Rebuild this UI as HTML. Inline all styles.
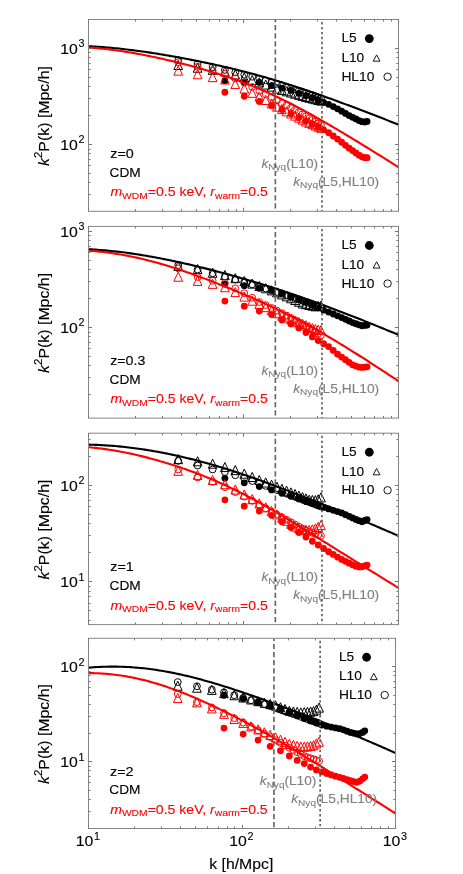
<!DOCTYPE html>
<html><head><meta charset="utf-8"><title>k2P(k)</title>
<style>html,body{margin:0;padding:0;background:#fff}svg{display:block;will-change:transform}svg text,svg tspan{font-family:"Liberation Sans",sans-serif}svg text{stroke-width:0.12px}</style></head>
<body><svg width="463" height="874" viewBox="0 0 463 874">
<rect width="463" height="874" fill="#fff"/>
<defs>
<clipPath id="c0"><rect x="88.5" y="19.5" width="310.60" height="191.80"/></clipPath>
<clipPath id="c1"><rect x="88.5" y="226.4" width="310.60" height="191.70"/></clipPath>
<clipPath id="c2"><rect x="88.5" y="433.2" width="310.60" height="191.40"/></clipPath>
<clipPath id="c3"><rect x="88.5" y="638.3" width="307.60" height="190.20"/></clipPath>
</defs>
<g clip-path="url(#c0)">
<circle cx="224.89" cy="80.68" r="3.4" fill="#000"/><circle cx="244.26" cy="81.78" r="3.4" fill="#000"/><circle cx="259.28" cy="82.39" r="3.4" fill="#000"/><circle cx="271.55" cy="85.65" r="3.4" fill="#000"/><circle cx="281.93" cy="88.08" r="3.4" fill="#000"/><circle cx="290.92" cy="90.35" r="3.4" fill="#000"/><circle cx="298.84" cy="93.29" r="3.4" fill="#000"/><circle cx="305.94" cy="95.69" r="3.4" fill="#000"/><circle cx="312.35" cy="97.70" r="3.4" fill="#000"/><circle cx="318.21" cy="100.38" r="3.4" fill="#000"/><circle cx="323.60" cy="102.31" r="3.4" fill="#000"/><circle cx="328.59" cy="104.32" r="3.4" fill="#000"/><circle cx="333.23" cy="106.62" r="3.4" fill="#000"/><circle cx="337.58" cy="108.83" r="3.4" fill="#000"/><circle cx="341.66" cy="111.18" r="3.4" fill="#000"/><circle cx="345.50" cy="113.47" r="3.4" fill="#000"/><circle cx="349.14" cy="115.61" r="3.4" fill="#000"/><circle cx="352.60" cy="117.32" r="3.4" fill="#000"/><circle cx="355.88" cy="118.96" r="3.4" fill="#000"/><circle cx="359.01" cy="120.55" r="3.4" fill="#000"/><circle cx="362.00" cy="121.66" r="3.4" fill="#000"/><circle cx="364.87" cy="121.99" r="3.4" fill="#000"/><circle cx="367.08" cy="121.46" r="3.4" fill="#000"/><circle cx="224.89" cy="92.23" r="3.4" fill="#ff0000"/><circle cx="244.26" cy="96.24" r="3.4" fill="#ff0000"/><circle cx="259.28" cy="101.51" r="3.4" fill="#ff0000"/><circle cx="271.55" cy="105.43" r="3.4" fill="#ff0000"/><circle cx="281.93" cy="109.49" r="3.4" fill="#ff0000"/><circle cx="290.92" cy="113.75" r="3.4" fill="#ff0000"/><circle cx="298.84" cy="117.55" r="3.4" fill="#ff0000"/><circle cx="305.94" cy="121.03" r="3.4" fill="#ff0000"/><circle cx="312.35" cy="124.22" r="3.4" fill="#ff0000"/><circle cx="318.21" cy="127.16" r="3.4" fill="#ff0000"/><circle cx="323.60" cy="129.90" r="3.4" fill="#ff0000"/><circle cx="328.59" cy="132.73" r="3.4" fill="#ff0000"/><circle cx="333.23" cy="135.98" r="3.4" fill="#ff0000"/><circle cx="337.58" cy="139.08" r="3.4" fill="#ff0000"/><circle cx="341.66" cy="142.26" r="3.4" fill="#ff0000"/><circle cx="345.50" cy="145.33" r="3.4" fill="#ff0000"/><circle cx="349.14" cy="148.22" r="3.4" fill="#ff0000"/><circle cx="352.60" cy="150.62" r="3.4" fill="#ff0000"/><circle cx="355.88" cy="152.94" r="3.4" fill="#ff0000"/><circle cx="359.01" cy="155.17" r="3.4" fill="#ff0000"/><circle cx="362.00" cy="156.78" r="3.4" fill="#ff0000"/><circle cx="364.87" cy="157.66" r="3.4" fill="#ff0000"/><circle cx="367.08" cy="157.66" r="3.4" fill="#ff0000"/><path d="M178.23 60.38L182.58 69.50H173.88Z" fill="none" stroke="#000" stroke-width="1.0"/><path d="M197.60 63.11L201.95 72.23H193.25Z" fill="none" stroke="#000" stroke-width="1.0"/><path d="M212.62 65.21L216.97 74.33H208.27Z" fill="none" stroke="#000" stroke-width="1.0"/><path d="M224.89 66.92L229.24 76.04H220.54Z" fill="none" stroke="#000" stroke-width="1.0"/><path d="M235.27 69.87L239.62 78.99H230.92Z" fill="none" stroke="#000" stroke-width="1.0"/><path d="M244.26 72.75L248.61 81.87H239.91Z" fill="none" stroke="#000" stroke-width="1.0"/><path d="M252.19 75.45L256.54 84.57H247.84Z" fill="none" stroke="#000" stroke-width="1.0"/><path d="M259.28 77.76L263.63 86.88H254.93Z" fill="none" stroke="#000" stroke-width="1.0"/><path d="M265.69 79.95L270.04 89.07H261.34Z" fill="none" stroke="#000" stroke-width="1.0"/><path d="M271.55 82.03L275.90 91.15H267.20Z" fill="none" stroke="#000" stroke-width="1.0"/><path d="M276.94 84.01L281.29 93.13H272.59Z" fill="none" stroke="#000" stroke-width="1.0"/><path d="M281.93 85.40L286.28 94.52H277.58Z" fill="none" stroke="#000" stroke-width="1.0"/><path d="M286.57 86.70L290.92 95.82H282.22Z" fill="none" stroke="#000" stroke-width="1.0"/><path d="M290.92 87.94L295.27 97.06H286.57Z" fill="none" stroke="#000" stroke-width="1.0"/><path d="M295.00 89.12L299.35 98.24H290.65Z" fill="none" stroke="#000" stroke-width="1.0"/><path d="M298.84 90.24L303.19 99.36H294.49Z" fill="none" stroke="#000" stroke-width="1.0"/><path d="M302.48 91.31L306.83 100.43H298.13Z" fill="none" stroke="#000" stroke-width="1.0"/><path d="M305.94 92.33L310.29 101.45H301.59Z" fill="none" stroke="#000" stroke-width="1.0"/><path d="M309.22 93.15L313.57 102.27H304.87Z" fill="none" stroke="#000" stroke-width="1.0"/><path d="M312.35 93.92L316.70 103.04H308.00Z" fill="none" stroke="#000" stroke-width="1.0"/><path d="M315.35 94.66L319.70 103.78H311.00Z" fill="none" stroke="#000" stroke-width="1.0"/><path d="M318.21 95.36L322.56 104.48H313.86Z" fill="none" stroke="#000" stroke-width="1.0"/><path d="M320.96 96.02L325.31 105.14H316.61Z" fill="none" stroke="#000" stroke-width="1.0"/><path d="M178.23 66.03L182.58 75.15H173.88Z" fill="none" stroke="#ff0000" stroke-width="1.0"/><path d="M197.60 69.68L201.95 78.80H193.25Z" fill="none" stroke="#ff0000" stroke-width="1.0"/><path d="M212.62 72.53L216.97 81.65H208.27Z" fill="none" stroke="#ff0000" stroke-width="1.0"/><path d="M224.89 74.90L229.24 84.02H220.54Z" fill="none" stroke="#ff0000" stroke-width="1.0"/><path d="M235.27 79.44L239.62 88.56H230.92Z" fill="none" stroke="#ff0000" stroke-width="1.0"/><path d="M244.26 83.93L248.61 93.05H239.91Z" fill="none" stroke="#ff0000" stroke-width="1.0"/><path d="M252.19 88.21L256.54 97.33H247.84Z" fill="none" stroke="#ff0000" stroke-width="1.0"/><path d="M259.28 91.88L263.63 101.00H254.93Z" fill="none" stroke="#ff0000" stroke-width="1.0"/><path d="M265.69 95.40L270.04 104.52H261.34Z" fill="none" stroke="#ff0000" stroke-width="1.0"/><path d="M271.55 98.79L275.90 107.91H267.20Z" fill="none" stroke="#ff0000" stroke-width="1.0"/><path d="M276.94 102.04L281.29 111.16H272.59Z" fill="none" stroke="#ff0000" stroke-width="1.0"/><path d="M281.93 104.43L286.28 113.55H277.58Z" fill="none" stroke="#ff0000" stroke-width="1.0"/><path d="M286.57 106.71L290.92 115.83H282.22Z" fill="none" stroke="#ff0000" stroke-width="1.0"/><path d="M290.92 108.90L295.27 118.02H286.57Z" fill="none" stroke="#ff0000" stroke-width="1.0"/><path d="M295.00 111.01L299.35 120.13H290.65Z" fill="none" stroke="#ff0000" stroke-width="1.0"/><path d="M298.84 113.03L303.19 122.15H294.49Z" fill="none" stroke="#ff0000" stroke-width="1.0"/><path d="M302.48 114.98L306.83 124.10H298.13Z" fill="none" stroke="#ff0000" stroke-width="1.0"/><path d="M305.94 116.85L310.29 125.97H301.59Z" fill="none" stroke="#ff0000" stroke-width="1.0"/><path d="M309.22 118.25L313.57 127.37H304.87Z" fill="none" stroke="#ff0000" stroke-width="1.0"/><path d="M312.35 119.58L316.70 128.70H308.00Z" fill="none" stroke="#ff0000" stroke-width="1.0"/><path d="M315.35 120.85L319.70 129.97H311.00Z" fill="none" stroke="#ff0000" stroke-width="1.0"/><path d="M318.21 122.06L322.56 131.18H313.86Z" fill="none" stroke="#ff0000" stroke-width="1.0"/><path d="M320.96 123.22L325.31 132.34H316.61Z" fill="none" stroke="#ff0000" stroke-width="1.0"/><circle cx="178.23" cy="60.28" r="3.4" fill="none" stroke="#000" stroke-width="1.0"/><circle cx="197.60" cy="64.01" r="3.4" fill="none" stroke="#000" stroke-width="1.0"/><circle cx="212.62" cy="67.16" r="3.4" fill="none" stroke="#000" stroke-width="1.0"/><circle cx="224.89" cy="69.92" r="3.4" fill="none" stroke="#000" stroke-width="1.0"/><circle cx="235.27" cy="72.40" r="3.4" fill="none" stroke="#000" stroke-width="1.0"/><circle cx="244.26" cy="74.67" r="3.4" fill="none" stroke="#000" stroke-width="1.0"/><circle cx="252.19" cy="76.75" r="3.4" fill="none" stroke="#000" stroke-width="1.0"/><circle cx="259.28" cy="78.68" r="3.4" fill="none" stroke="#000" stroke-width="1.0"/><circle cx="265.69" cy="80.50" r="3.4" fill="none" stroke="#000" stroke-width="1.0"/><circle cx="271.55" cy="82.20" r="3.4" fill="none" stroke="#000" stroke-width="1.0"/><circle cx="276.94" cy="83.81" r="3.4" fill="none" stroke="#000" stroke-width="1.0"/><circle cx="281.93" cy="85.34" r="3.4" fill="none" stroke="#000" stroke-width="1.0"/><circle cx="286.57" cy="86.79" r="3.4" fill="none" stroke="#000" stroke-width="1.0"/><circle cx="290.92" cy="88.17" r="3.4" fill="none" stroke="#000" stroke-width="1.0"/><circle cx="295.00" cy="89.49" r="3.4" fill="none" stroke="#000" stroke-width="1.0"/><circle cx="298.84" cy="90.76" r="3.4" fill="none" stroke="#000" stroke-width="1.0"/><circle cx="302.48" cy="91.97" r="3.4" fill="none" stroke="#000" stroke-width="1.0"/><circle cx="305.94" cy="93.13" r="3.4" fill="none" stroke="#000" stroke-width="1.0"/><circle cx="309.22" cy="94.25" r="3.4" fill="none" stroke="#000" stroke-width="1.0"/><circle cx="312.35" cy="95.32" r="3.4" fill="none" stroke="#000" stroke-width="1.0"/><circle cx="315.35" cy="96.36" r="3.4" fill="none" stroke="#000" stroke-width="1.0"/><circle cx="318.21" cy="97.36" r="3.4" fill="none" stroke="#000" stroke-width="1.0"/><circle cx="320.96" cy="98.32" r="3.4" fill="none" stroke="#000" stroke-width="1.0"/><circle cx="178.23" cy="62.23" r="3.4" fill="none" stroke="#ff0000" stroke-width="1.0"/><circle cx="197.60" cy="66.77" r="3.4" fill="none" stroke="#ff0000" stroke-width="1.0"/><circle cx="212.62" cy="70.57" r="3.4" fill="none" stroke="#ff0000" stroke-width="1.0"/><circle cx="224.89" cy="73.88" r="3.4" fill="none" stroke="#ff0000" stroke-width="1.0"/><circle cx="235.27" cy="78.39" r="3.4" fill="none" stroke="#ff0000" stroke-width="1.0"/><circle cx="244.26" cy="82.76" r="3.4" fill="none" stroke="#ff0000" stroke-width="1.0"/><circle cx="252.19" cy="86.94" r="3.4" fill="none" stroke="#ff0000" stroke-width="1.0"/><circle cx="259.28" cy="90.93" r="3.4" fill="none" stroke="#ff0000" stroke-width="1.0"/><circle cx="265.69" cy="94.20" r="3.4" fill="none" stroke="#ff0000" stroke-width="1.0"/><circle cx="271.55" cy="97.34" r="3.4" fill="none" stroke="#ff0000" stroke-width="1.0"/><circle cx="276.94" cy="100.34" r="3.4" fill="none" stroke="#ff0000" stroke-width="1.0"/><circle cx="281.93" cy="103.23" r="3.4" fill="none" stroke="#ff0000" stroke-width="1.0"/><circle cx="286.57" cy="105.60" r="3.4" fill="none" stroke="#ff0000" stroke-width="1.0"/><circle cx="290.92" cy="107.89" r="3.4" fill="none" stroke="#ff0000" stroke-width="1.0"/><circle cx="295.00" cy="110.08" r="3.4" fill="none" stroke="#ff0000" stroke-width="1.0"/><circle cx="298.84" cy="112.20" r="3.4" fill="none" stroke="#ff0000" stroke-width="1.0"/><circle cx="302.48" cy="114.24" r="3.4" fill="none" stroke="#ff0000" stroke-width="1.0"/><circle cx="305.94" cy="116.20" r="3.4" fill="none" stroke="#ff0000" stroke-width="1.0"/><circle cx="309.22" cy="118.09" r="3.4" fill="none" stroke="#ff0000" stroke-width="1.0"/><circle cx="312.35" cy="119.91" r="3.4" fill="none" stroke="#ff0000" stroke-width="1.0"/><circle cx="315.35" cy="121.67" r="3.4" fill="none" stroke="#ff0000" stroke-width="1.0"/><circle cx="318.21" cy="123.37" r="3.4" fill="none" stroke="#ff0000" stroke-width="1.0"/><circle cx="320.96" cy="125.02" r="3.4" fill="none" stroke="#ff0000" stroke-width="1.0"/>
<path d="M87.50 46.20L89.46 46.29L91.42 46.40L93.39 46.51L95.35 46.63L97.31 46.75L99.27 46.88L101.24 47.02L103.20 47.17L105.16 47.32L107.12 47.48L109.08 47.65L111.05 47.82L113.01 48.00L114.97 48.19L116.93 48.38L118.90 48.58L120.86 48.79L122.82 49.00L124.78 49.22L126.75 49.45L128.71 49.68L130.67 49.92L132.63 50.16L134.59 50.42L136.56 50.67L138.52 50.94L140.48 51.21L142.44 51.48L144.41 51.76L146.37 52.05L148.33 52.34L150.29 52.64L152.25 52.94L154.22 53.24L156.18 53.55L158.14 53.87L160.10 54.18L162.07 54.51L164.03 54.84L165.99 55.17L167.95 55.51L169.92 55.85L171.88 56.20L173.84 56.55L175.80 56.90L177.76 57.25L179.73 57.61L181.69 57.98L183.65 58.34L185.61 58.72L187.58 59.09L189.54 59.47L191.50 59.85L193.46 60.23L195.42 60.62L197.39 61.02L199.35 61.41L201.31 61.81L203.27 62.22L205.24 62.63L207.20 63.04L209.16 63.45L211.12 63.87L213.08 64.30L215.05 64.73L217.01 65.16L218.97 65.59L220.93 66.04L222.90 66.48L224.86 66.93L226.82 67.39L228.78 67.85L230.75 68.32L232.71 68.79L234.67 69.27L236.63 69.75L238.59 70.23L240.56 70.73L242.52 71.22L244.48 71.72L246.44 72.23L248.41 72.74L250.37 73.26L252.33 73.79L254.29 74.31L256.25 74.85L258.22 75.39L260.18 75.93L262.14 76.49L264.10 77.04L266.07 77.60L268.03 78.17L269.99 78.74L271.95 79.32L273.92 79.91L275.88 80.49L277.84 81.09L279.80 81.69L281.76 82.29L283.73 82.90L285.69 83.51L287.65 84.13L289.61 84.75L291.58 85.38L293.54 86.02L295.50 86.65L297.46 87.30L299.42 87.95L301.39 88.60L303.35 89.26L305.31 89.92L307.27 90.58L309.24 91.25L311.20 91.92L313.16 92.60L315.12 93.28L317.08 93.96L319.05 94.65L321.01 95.34L322.97 96.03L324.93 96.73L326.90 97.43L328.86 98.14L330.82 98.84L332.78 99.56L334.75 100.27L336.71 100.99L338.67 101.71L340.63 102.44L342.59 103.16L344.56 103.89L346.52 104.62L348.48 105.35L350.44 106.08L352.41 106.82L354.37 107.55L356.33 108.29L358.29 109.04L360.25 109.78L362.22 110.52L364.18 111.27L366.14 112.02L368.10 112.77L370.07 113.53L372.03 114.28L373.99 115.04L375.95 115.80L377.92 116.56L379.88 117.32L381.84 118.09L383.80 118.85L385.76 119.62L387.73 120.39L389.69 121.16L391.65 121.93L393.61 122.71L395.58 123.48L397.54 124.26L399.50 125.04" fill="none" stroke="#000" stroke-width="2.1"/>
<path d="M87.50 47.43L89.46 47.57L91.42 47.72L93.39 47.87L95.35 48.04L97.31 48.21L99.27 48.40L101.24 48.59L103.20 48.79L105.16 49.01L107.12 49.23L109.08 49.46L111.05 49.70L113.01 49.94L114.97 50.20L116.93 50.47L118.90 50.74L120.86 51.03L122.82 51.32L124.78 51.62L126.75 51.93L128.71 52.24L130.67 52.57L132.63 52.90L134.59 53.25L136.56 53.60L138.52 53.96L140.48 54.33L142.44 54.70L144.41 55.08L146.37 55.47L148.33 55.86L150.29 56.26L152.25 56.67L154.22 57.09L156.18 57.51L158.14 57.93L160.10 58.37L162.07 58.81L164.03 59.25L165.99 59.71L167.95 60.17L169.92 60.63L171.88 61.10L173.84 61.57L175.80 62.05L177.76 62.54L179.73 63.03L181.69 63.53L183.65 64.03L185.61 64.53L187.58 65.05L189.54 65.56L191.50 66.09L193.46 66.62L195.42 67.15L197.39 67.70L199.35 68.24L201.31 68.80L203.27 69.36L205.24 69.93L207.20 70.51L209.16 71.09L211.12 71.68L213.08 72.28L215.05 72.88L217.01 73.49L218.97 74.11L220.93 74.74L222.90 75.37L224.86 76.02L226.82 76.68L228.78 77.34L230.75 78.02L232.71 78.70L234.67 79.39L236.63 80.09L238.59 80.80L240.56 81.52L242.52 82.25L244.48 82.99L246.44 83.75L248.41 84.51L250.37 85.28L252.33 86.07L254.29 86.86L256.25 87.67L258.22 88.49L260.18 89.32L262.14 90.16L264.10 91.01L266.07 91.87L268.03 92.74L269.99 93.63L271.95 94.52L273.92 95.42L275.88 96.34L277.84 97.27L279.80 98.20L281.76 99.15L283.73 100.11L285.69 101.07L287.65 102.05L289.61 103.04L291.58 104.04L293.54 105.05L295.50 106.07L297.46 107.10L299.42 108.14L301.39 109.19L303.35 110.25L305.31 111.31L307.27 112.38L309.24 113.46L311.20 114.54L313.16 115.63L315.12 116.73L317.08 117.83L319.05 118.94L321.01 120.05L322.97 121.17L324.93 122.30L326.90 123.43L328.86 124.58L330.82 125.72L332.78 126.88L334.75 128.04L336.71 129.20L338.67 130.37L340.63 131.54L342.59 132.71L344.56 133.89L346.52 135.06L348.48 136.25L350.44 137.43L352.41 138.62L354.37 139.81L356.33 141.00L358.29 142.19L360.25 143.39L362.22 144.59L364.18 145.79L366.14 147.00L368.10 148.21L370.07 149.42L372.03 150.63L373.99 151.85L375.95 153.07L377.92 154.28L379.88 155.51L381.84 156.73L383.80 157.95L385.76 159.18L387.73 160.41L389.69 161.64L391.65 162.87L393.61 164.11L395.58 165.34L397.54 166.58L399.50 167.82" fill="none" stroke="#ff0000" stroke-width="2.1"/>
<path d="M275.35 19.5V211.3" stroke="#626262" stroke-width="1.6" stroke-dasharray="5.2 2.9" stroke-dashoffset="2.5" fill="none"/>
<path d="M322.01 19.5V211.3" stroke="#626262" stroke-width="1.7" stroke-dasharray="2.4 2.55" stroke-dashoffset="2.45" fill="none"/>
</g>
<rect x="88.5" y="19.5" width="310.00" height="191.80" fill="none" stroke="#858585" stroke-width="1"/>
<path d="M88.50 211.30v-3.6M88.50 19.50v3.6M135.50 211.30v-2.1M135.50 19.50v2.1M162.50 211.30v-2.1M162.50 19.50v2.1M181.50 211.30v-2.1M181.50 19.50v2.1M196.50 211.30v-2.1M196.50 19.50v2.1M209.50 211.30v-2.1M209.50 19.50v2.1M219.50 211.30v-2.1M219.50 19.50v2.1M228.50 211.30v-2.1M228.50 19.50v2.1M236.50 211.30v-2.1M236.50 19.50v2.1M243.50 211.30v-3.6M243.50 19.50v3.6M290.50 211.30v-2.1M290.50 19.50v2.1M317.50 211.30v-2.1M317.50 19.50v2.1M336.50 211.30v-2.1M336.50 19.50v2.1M351.50 211.30v-2.1M351.50 19.50v2.1M364.50 211.30v-2.1M364.50 19.50v2.1M374.50 211.30v-2.1M374.50 19.50v2.1M383.50 211.30v-2.1M383.50 19.50v2.1M391.50 211.30v-2.1M391.50 19.50v2.1M398.50 211.30v-3.6M398.50 19.50v3.6M88.50 194.50h2.1M398.50 194.50h-2.1M88.50 182.50h2.1M398.50 182.50h-2.1M88.50 173.50h2.1M398.50 173.50h-2.1M88.50 165.50h2.1M398.50 165.50h-2.1M88.50 159.50h2.1M398.50 159.50h-2.1M88.50 153.50h2.1M398.50 153.50h-2.1M88.50 149.50h2.1M398.50 149.50h-2.1M88.50 144.50h3.6M398.50 144.50h-3.6M88.50 115.50h2.1M398.50 115.50h-2.1M88.50 98.50h2.1M398.50 98.50h-2.1M88.50 86.50h2.1M398.50 86.50h-2.1M88.50 77.50h2.1M398.50 77.50h-2.1M88.50 69.50h2.1M398.50 69.50h-2.1M88.50 63.50h2.1M398.50 63.50h-2.1M88.50 57.50h2.1M398.50 57.50h-2.1M88.50 52.50h2.1M398.50 52.50h-2.1M88.50 48.50h3.6M398.50 48.50h-3.6" stroke="#777" stroke-width="1" fill="none"/>
<text x="60.3" y="53.9" font-size="15.5" fill="#000" stroke="#000" textLength="17.6" lengthAdjust="spacingAndGlyphs" >10</text>
<text x="78.5" y="47.2" font-size="10.6" fill="#000" stroke="#000" textLength="6.0" lengthAdjust="spacingAndGlyphs" >3</text>
<text x="60.3" y="150.1" font-size="15.5" fill="#000" stroke="#000" textLength="17.6" lengthAdjust="spacingAndGlyphs" >10</text>
<text x="78.5" y="143.4" font-size="10.6" fill="#000" stroke="#000" textLength="6.0" lengthAdjust="spacingAndGlyphs" >2</text>
<g transform="translate(49.2 166.0) rotate(-90)"><text x="0" y="0" font-size="13.8" stroke="#000" textLength="100" lengthAdjust="spacingAndGlyphs"><tspan font-style="italic">k</tspan><tspan font-size="10" dy="-7.6">2</tspan><tspan dy="7.6">P(k) [Mpc/h]</tspan></text></g>
<text x="110.2" y="157.9" font-size="13.5" fill="#000" stroke="#000" textLength="23.6" lengthAdjust="spacingAndGlyphs" >z=0</text>
<text x="109.5" y="176.7" font-size="13.5" fill="#000" stroke="#000" textLength="31.2" lengthAdjust="spacingAndGlyphs" >CDM</text>
<text x="110.4" y="196.2" font-size="13.5" fill="#ff0000" stroke="#ff0000" textLength="157.5" lengthAdjust="spacingAndGlyphs"><tspan font-style="italic">m</tspan><tspan font-size="9.9" dy="2.5">WDM</tspan><tspan dy="-2.5">=0.5 keV, </tspan><tspan font-style="italic">r</tspan><tspan font-size="9.9" dy="2.5">warm</tspan><tspan dy="-2.5">=0.5</tspan></text>
<text x="261.5" y="167.7" font-size="13.5" fill="#808080" stroke="#808080" textLength="56.6" lengthAdjust="spacingAndGlyphs"><tspan font-style="italic">k</tspan><tspan font-size="9.9" dy="2.5">Nyq</tspan><tspan dy="-2.5">(L10)</tspan></text>
<text x="293.2" y="185.8" font-size="13.5" fill="#808080" stroke="#808080" textLength="86" lengthAdjust="spacingAndGlyphs"><tspan font-style="italic">k</tspan><tspan font-size="9.9" dy="2.5">Nyq</tspan><tspan dy="-2.5">(L5,HL10)</tspan></text>
<text x="341.4" y="42.4" font-size="13.5" fill="#000" stroke="#000" textLength="15.2" lengthAdjust="spacingAndGlyphs" >L5</text>
<text x="341.4" y="62.0" font-size="13.5" fill="#000" stroke="#000" textLength="22.8" lengthAdjust="spacingAndGlyphs" >L10</text>
<text x="341.4" y="80.6" font-size="13.5" fill="#000" stroke="#000" textLength="33.0" lengthAdjust="spacingAndGlyphs" >HL10</text>
<circle cx="369.30" cy="38.60" r="4.4" fill="#000"/>
<path d="M376.60 54.90L380.00 61.20H373.20Z" fill="none" stroke="#000" stroke-width="0.9"/>
<circle cx="387.60" cy="76.70" r="3.7" fill="none" stroke="#000" stroke-width="0.9"/>
<g clip-path="url(#c1)">
<circle cx="224.89" cy="284.06" r="3.4" fill="#000"/><circle cx="244.26" cy="285.68" r="3.4" fill="#000"/><circle cx="259.28" cy="288.35" r="3.4" fill="#000"/><circle cx="271.55" cy="290.05" r="3.4" fill="#000"/><circle cx="281.93" cy="293.47" r="3.4" fill="#000"/><circle cx="290.92" cy="296.67" r="3.4" fill="#000"/><circle cx="298.84" cy="299.63" r="3.4" fill="#000"/><circle cx="305.94" cy="302.36" r="3.4" fill="#000"/><circle cx="312.35" cy="305.16" r="3.4" fill="#000"/><circle cx="318.21" cy="307.79" r="3.4" fill="#000"/><circle cx="323.60" cy="310.11" r="3.4" fill="#000"/><circle cx="328.59" cy="312.12" r="3.4" fill="#000"/><circle cx="333.23" cy="314.02" r="3.4" fill="#000"/><circle cx="337.58" cy="315.83" r="3.4" fill="#000"/><circle cx="341.66" cy="317.62" r="3.4" fill="#000"/><circle cx="345.50" cy="319.34" r="3.4" fill="#000"/><circle cx="349.14" cy="320.99" r="3.4" fill="#000"/><circle cx="352.60" cy="322.58" r="3.4" fill="#000"/><circle cx="355.88" cy="323.74" r="3.4" fill="#000"/><circle cx="359.01" cy="324.78" r="3.4" fill="#000"/><circle cx="362.00" cy="325.76" r="3.4" fill="#000"/><circle cx="364.87" cy="325.44" r="3.4" fill="#000"/><circle cx="367.08" cy="325.09" r="3.4" fill="#000"/><circle cx="224.89" cy="301.10" r="3.4" fill="#ff0000"/><circle cx="244.26" cy="306.13" r="3.4" fill="#ff0000"/><circle cx="259.28" cy="311.04" r="3.4" fill="#ff0000"/><circle cx="271.55" cy="314.59" r="3.4" fill="#ff0000"/><circle cx="281.93" cy="320.10" r="3.4" fill="#ff0000"/><circle cx="290.92" cy="323.92" r="3.4" fill="#ff0000"/><circle cx="298.84" cy="327.91" r="3.4" fill="#ff0000"/><circle cx="305.94" cy="332.48" r="3.4" fill="#ff0000"/><circle cx="312.35" cy="336.95" r="3.4" fill="#ff0000"/><circle cx="318.21" cy="340.61" r="3.4" fill="#ff0000"/><circle cx="323.60" cy="343.73" r="3.4" fill="#ff0000"/><circle cx="328.59" cy="346.56" r="3.4" fill="#ff0000"/><circle cx="333.23" cy="350.39" r="3.4" fill="#ff0000"/><circle cx="337.58" cy="354.17" r="3.4" fill="#ff0000"/><circle cx="341.66" cy="357.09" r="3.4" fill="#ff0000"/><circle cx="345.50" cy="359.77" r="3.4" fill="#ff0000"/><circle cx="349.14" cy="362.34" r="3.4" fill="#ff0000"/><circle cx="352.60" cy="364.81" r="3.4" fill="#ff0000"/><circle cx="355.88" cy="366.09" r="3.4" fill="#ff0000"/><circle cx="359.01" cy="367.03" r="3.4" fill="#ff0000"/><circle cx="362.00" cy="367.44" r="3.4" fill="#ff0000"/><circle cx="364.87" cy="367.11" r="3.4" fill="#ff0000"/><circle cx="367.08" cy="366.81" r="3.4" fill="#ff0000"/><path d="M178.23 261.34L182.58 270.46H173.88Z" fill="none" stroke="#000" stroke-width="1.0"/><path d="M197.60 264.46L201.95 273.58H193.25Z" fill="none" stroke="#000" stroke-width="1.0"/><path d="M212.62 268.18L216.97 277.30H208.27Z" fill="none" stroke="#000" stroke-width="1.0"/><path d="M224.89 270.47L229.24 279.59H220.54Z" fill="none" stroke="#000" stroke-width="1.0"/><path d="M235.27 273.58L239.62 282.70H230.92Z" fill="none" stroke="#000" stroke-width="1.0"/><path d="M244.26 276.43L248.61 285.55H239.91Z" fill="none" stroke="#000" stroke-width="1.0"/><path d="M252.19 279.03L256.54 288.15H247.84Z" fill="none" stroke="#000" stroke-width="1.0"/><path d="M259.28 281.43L263.63 290.55H254.93Z" fill="none" stroke="#000" stroke-width="1.0"/><path d="M265.69 283.67L270.04 292.79H261.34Z" fill="none" stroke="#000" stroke-width="1.0"/><path d="M271.55 285.77L275.90 294.89H267.20Z" fill="none" stroke="#000" stroke-width="1.0"/><path d="M276.94 287.75L281.29 296.87H272.59Z" fill="none" stroke="#000" stroke-width="1.0"/><path d="M281.93 289.79L286.28 298.91H277.58Z" fill="none" stroke="#000" stroke-width="1.0"/><path d="M286.57 291.75L290.92 300.87H282.22Z" fill="none" stroke="#000" stroke-width="1.0"/><path d="M290.92 293.62L295.27 302.74H286.57Z" fill="none" stroke="#000" stroke-width="1.0"/><path d="M295.00 295.43L299.35 304.55H290.65Z" fill="none" stroke="#000" stroke-width="1.0"/><path d="M298.84 297.16L303.19 306.28H294.49Z" fill="none" stroke="#000" stroke-width="1.0"/><path d="M302.48 298.85L306.83 307.97H298.13Z" fill="none" stroke="#000" stroke-width="1.0"/><path d="M305.94 299.63L310.29 308.75H301.59Z" fill="none" stroke="#000" stroke-width="1.0"/><path d="M309.22 300.37L313.57 309.49H304.87Z" fill="none" stroke="#000" stroke-width="1.0"/><path d="M312.35 301.06L316.70 310.18H308.00Z" fill="none" stroke="#000" stroke-width="1.0"/><path d="M315.35 301.71L319.70 310.83H311.00Z" fill="none" stroke="#000" stroke-width="1.0"/><path d="M318.21 301.35L322.56 310.47H313.86Z" fill="none" stroke="#000" stroke-width="1.0"/><path d="M320.96 300.96L325.31 310.08H316.61Z" fill="none" stroke="#000" stroke-width="1.0"/><path d="M178.23 272.11L182.58 281.23H173.88Z" fill="none" stroke="#ff0000" stroke-width="1.0"/><path d="M197.60 276.30L201.95 285.42H193.25Z" fill="none" stroke="#ff0000" stroke-width="1.0"/><path d="M212.62 279.25L216.97 288.37H208.27Z" fill="none" stroke="#ff0000" stroke-width="1.0"/><path d="M224.89 282.61L229.24 291.73H220.54Z" fill="none" stroke="#ff0000" stroke-width="1.0"/><path d="M235.27 287.50L239.62 296.62H230.92Z" fill="none" stroke="#ff0000" stroke-width="1.0"/><path d="M244.26 291.97L248.61 301.09H239.91Z" fill="none" stroke="#ff0000" stroke-width="1.0"/><path d="M252.19 296.10L256.54 305.22H247.84Z" fill="none" stroke="#ff0000" stroke-width="1.0"/><path d="M259.28 299.44L263.63 308.56H254.93Z" fill="none" stroke="#ff0000" stroke-width="1.0"/><path d="M265.69 302.54L270.04 311.66H261.34Z" fill="none" stroke="#ff0000" stroke-width="1.0"/><path d="M271.55 305.45L275.90 314.57H267.20Z" fill="none" stroke="#ff0000" stroke-width="1.0"/><path d="M276.94 308.60L281.29 317.72H272.59Z" fill="none" stroke="#ff0000" stroke-width="1.0"/><path d="M281.93 311.07L286.28 320.19H277.58Z" fill="none" stroke="#ff0000" stroke-width="1.0"/><path d="M286.57 312.86L290.92 321.98H282.22Z" fill="none" stroke="#ff0000" stroke-width="1.0"/><path d="M290.92 314.54L295.27 323.66H286.57Z" fill="none" stroke="#ff0000" stroke-width="1.0"/><path d="M295.00 316.12L299.35 325.24H290.65Z" fill="none" stroke="#ff0000" stroke-width="1.0"/><path d="M298.84 317.62L303.19 326.74H294.49Z" fill="none" stroke="#ff0000" stroke-width="1.0"/><path d="M302.48 319.19L306.83 328.31H298.13Z" fill="none" stroke="#ff0000" stroke-width="1.0"/><path d="M305.94 320.70L310.29 329.82H301.59Z" fill="none" stroke="#ff0000" stroke-width="1.0"/><path d="M309.22 322.13L313.57 331.25H304.87Z" fill="none" stroke="#ff0000" stroke-width="1.0"/><path d="M312.35 323.50L316.70 332.62H308.00Z" fill="none" stroke="#ff0000" stroke-width="1.0"/><path d="M315.35 324.47L319.70 333.59H311.00Z" fill="none" stroke="#ff0000" stroke-width="1.0"/><path d="M318.21 325.05L322.56 334.17H313.86Z" fill="none" stroke="#ff0000" stroke-width="1.0"/><path d="M320.96 325.58L325.31 334.70H316.61Z" fill="none" stroke="#ff0000" stroke-width="1.0"/><circle cx="178.23" cy="265.14" r="3.4" fill="none" stroke="#000" stroke-width="1.0"/><circle cx="197.60" cy="269.55" r="3.4" fill="none" stroke="#000" stroke-width="1.0"/><circle cx="212.62" cy="273.28" r="3.4" fill="none" stroke="#000" stroke-width="1.0"/><circle cx="224.89" cy="276.51" r="3.4" fill="none" stroke="#000" stroke-width="1.0"/><circle cx="235.27" cy="279.39" r="3.4" fill="none" stroke="#000" stroke-width="1.0"/><circle cx="244.26" cy="281.98" r="3.4" fill="none" stroke="#000" stroke-width="1.0"/><circle cx="252.19" cy="284.33" r="3.4" fill="none" stroke="#000" stroke-width="1.0"/><circle cx="259.28" cy="286.48" r="3.4" fill="none" stroke="#000" stroke-width="1.0"/><circle cx="265.69" cy="288.47" r="3.4" fill="none" stroke="#000" stroke-width="1.0"/><circle cx="271.55" cy="290.32" r="3.4" fill="none" stroke="#000" stroke-width="1.0"/><circle cx="276.94" cy="292.05" r="3.4" fill="none" stroke="#000" stroke-width="1.0"/><circle cx="281.93" cy="293.68" r="3.4" fill="none" stroke="#000" stroke-width="1.0"/><circle cx="286.57" cy="295.22" r="3.4" fill="none" stroke="#000" stroke-width="1.0"/><circle cx="290.92" cy="296.67" r="3.4" fill="none" stroke="#000" stroke-width="1.0"/><circle cx="295.00" cy="298.06" r="3.4" fill="none" stroke="#000" stroke-width="1.0"/><circle cx="298.84" cy="299.38" r="3.4" fill="none" stroke="#000" stroke-width="1.0"/><circle cx="302.48" cy="300.65" r="3.4" fill="none" stroke="#000" stroke-width="1.0"/><circle cx="305.94" cy="301.86" r="3.4" fill="none" stroke="#000" stroke-width="1.0"/><circle cx="309.22" cy="303.02" r="3.4" fill="none" stroke="#000" stroke-width="1.0"/><circle cx="312.35" cy="304.14" r="3.4" fill="none" stroke="#000" stroke-width="1.0"/><circle cx="315.35" cy="305.21" r="3.4" fill="none" stroke="#000" stroke-width="1.0"/><circle cx="318.21" cy="306.25" r="3.4" fill="none" stroke="#000" stroke-width="1.0"/><circle cx="320.96" cy="307.26" r="3.4" fill="none" stroke="#000" stroke-width="1.0"/><circle cx="178.23" cy="268.41" r="3.4" fill="none" stroke="#ff0000" stroke-width="1.0"/><circle cx="197.60" cy="277.05" r="3.4" fill="none" stroke="#ff0000" stroke-width="1.0"/><circle cx="212.62" cy="280.74" r="3.4" fill="none" stroke="#ff0000" stroke-width="1.0"/><circle cx="224.89" cy="282.93" r="3.4" fill="none" stroke="#ff0000" stroke-width="1.0"/><circle cx="235.27" cy="288.24" r="3.4" fill="none" stroke="#ff0000" stroke-width="1.0"/><circle cx="244.26" cy="293.16" r="3.4" fill="none" stroke="#ff0000" stroke-width="1.0"/><circle cx="252.19" cy="297.73" r="3.4" fill="none" stroke="#ff0000" stroke-width="1.0"/><circle cx="259.28" cy="302.04" r="3.4" fill="none" stroke="#ff0000" stroke-width="1.0"/><circle cx="265.69" cy="305.08" r="3.4" fill="none" stroke="#ff0000" stroke-width="1.0"/><circle cx="271.55" cy="307.92" r="3.4" fill="none" stroke="#ff0000" stroke-width="1.0"/><circle cx="276.94" cy="310.60" r="3.4" fill="none" stroke="#ff0000" stroke-width="1.0"/><circle cx="281.93" cy="313.16" r="3.4" fill="none" stroke="#ff0000" stroke-width="1.0"/><circle cx="286.57" cy="315.59" r="3.4" fill="none" stroke="#ff0000" stroke-width="1.0"/><circle cx="290.92" cy="317.92" r="3.4" fill="none" stroke="#ff0000" stroke-width="1.0"/><circle cx="295.00" cy="320.15" r="3.4" fill="none" stroke="#ff0000" stroke-width="1.0"/><circle cx="298.84" cy="322.29" r="3.4" fill="none" stroke="#ff0000" stroke-width="1.0"/><circle cx="302.48" cy="324.35" r="3.4" fill="none" stroke="#ff0000" stroke-width="1.0"/><circle cx="305.94" cy="326.34" r="3.4" fill="none" stroke="#ff0000" stroke-width="1.0"/><circle cx="309.22" cy="328.26" r="3.4" fill="none" stroke="#ff0000" stroke-width="1.0"/><circle cx="312.35" cy="330.12" r="3.4" fill="none" stroke="#ff0000" stroke-width="1.0"/><circle cx="315.35" cy="331.93" r="3.4" fill="none" stroke="#ff0000" stroke-width="1.0"/><circle cx="318.21" cy="333.68" r="3.4" fill="none" stroke="#ff0000" stroke-width="1.0"/><circle cx="320.96" cy="335.38" r="3.4" fill="none" stroke="#ff0000" stroke-width="1.0"/>
<path d="M87.50 249.22L89.46 249.32L91.42 249.42L93.39 249.54L95.35 249.66L97.31 249.80L99.27 249.94L101.24 250.09L103.20 250.25L105.16 250.41L107.12 250.59L109.08 250.78L111.05 250.97L113.01 251.17L114.97 251.38L116.93 251.60L118.90 251.83L120.86 252.07L122.82 252.31L124.78 252.56L126.75 252.82L128.71 253.09L130.67 253.36L132.63 253.65L134.59 253.94L136.56 254.23L138.52 254.54L140.48 254.86L142.44 255.18L144.41 255.50L146.37 255.84L148.33 256.18L150.29 256.52L152.25 256.87L154.22 257.23L156.18 257.59L158.14 257.96L160.10 258.34L162.07 258.72L164.03 259.10L165.99 259.50L167.95 259.90L169.92 260.30L171.88 260.71L173.84 261.12L175.80 261.54L177.76 261.96L179.73 262.39L181.69 262.82L183.65 263.26L185.61 263.70L187.58 264.14L189.54 264.59L191.50 265.05L193.46 265.51L195.42 265.98L197.39 266.45L199.35 266.92L201.31 267.40L203.27 267.88L205.24 268.37L207.20 268.86L209.16 269.36L211.12 269.86L213.08 270.37L215.05 270.88L217.01 271.40L218.97 271.92L220.93 272.44L222.90 272.97L224.86 273.50L226.82 274.04L228.78 274.58L230.75 275.12L232.71 275.67L234.67 276.22L236.63 276.78L238.59 277.34L240.56 277.91L242.52 278.47L244.48 279.05L246.44 279.62L248.41 280.20L250.37 280.78L252.33 281.37L254.29 281.96L256.25 282.56L258.22 283.15L260.18 283.76L262.14 284.36L264.10 284.97L266.07 285.58L268.03 286.20L269.99 286.82L271.95 287.45L273.92 288.07L275.88 288.71L277.84 289.34L279.80 289.98L281.76 290.62L283.73 291.27L285.69 291.92L287.65 292.58L289.61 293.23L291.58 293.90L293.54 294.56L295.50 295.23L297.46 295.90L299.42 296.58L301.39 297.26L303.35 297.95L305.31 298.64L307.27 299.33L309.24 300.02L311.20 300.72L313.16 301.43L315.12 302.13L317.08 302.84L319.05 303.56L321.01 304.27L322.97 305.00L324.93 305.72L326.90 306.45L328.86 307.18L330.82 307.92L332.78 308.66L334.75 309.40L336.71 310.15L338.67 310.90L340.63 311.65L342.59 312.41L344.56 313.16L346.52 313.92L348.48 314.68L350.44 315.45L352.41 316.22L354.37 316.99L356.33 317.76L358.29 318.53L360.25 319.31L362.22 320.09L364.18 320.87L366.14 321.65L368.10 322.44L370.07 323.23L372.03 324.02L373.99 324.81L375.95 325.61L377.92 326.40L379.88 327.20L381.84 328.00L383.80 328.80L385.76 329.61L387.73 330.41L389.69 331.22L391.65 332.03L393.61 332.84L395.58 333.65L397.54 334.47L399.50 335.28" fill="none" stroke="#000" stroke-width="2.1"/>
<path d="M87.50 250.62L89.46 250.75L91.42 250.90L93.39 251.06L95.35 251.23L97.31 251.41L99.27 251.61L101.24 251.82L103.20 252.04L105.16 252.27L107.12 252.52L109.08 252.77L111.05 253.04L113.01 253.33L114.97 253.62L116.93 253.93L118.90 254.25L120.86 254.58L122.82 254.92L124.78 255.27L126.75 255.64L128.71 256.02L130.67 256.41L132.63 256.81L134.59 257.22L136.56 257.65L138.52 258.09L140.48 258.54L142.44 259.00L144.41 259.47L146.37 259.95L148.33 260.44L150.29 260.95L152.25 261.46L154.22 261.98L156.18 262.52L158.14 263.07L160.10 263.62L162.07 264.19L164.03 264.77L165.99 265.36L167.95 265.96L169.92 266.57L171.88 267.18L173.84 267.81L175.80 268.44L177.76 269.08L179.73 269.73L181.69 270.39L183.65 271.06L185.61 271.73L187.58 272.42L189.54 273.11L191.50 273.81L193.46 274.52L195.42 275.23L197.39 275.94L199.35 276.67L201.31 277.39L203.27 278.12L205.24 278.86L207.20 279.60L209.16 280.35L211.12 281.10L213.08 281.86L215.05 282.62L217.01 283.39L218.97 284.16L220.93 284.94L222.90 285.72L224.86 286.50L226.82 287.29L228.78 288.08L230.75 288.88L232.71 289.68L234.67 290.49L236.63 291.30L238.59 292.11L240.56 292.93L242.52 293.75L244.48 294.58L246.44 295.42L248.41 296.26L250.37 297.11L252.33 297.96L254.29 298.82L256.25 299.69L258.22 300.56L260.18 301.44L262.14 302.33L264.10 303.22L266.07 304.11L268.03 305.02L269.99 305.92L271.95 306.84L273.92 307.76L275.88 308.70L277.84 309.64L279.80 310.59L281.76 311.54L283.73 312.51L285.69 313.48L287.65 314.46L289.61 315.45L291.58 316.45L293.54 317.46L295.50 318.47L297.46 319.50L299.42 320.53L301.39 321.57L303.35 322.61L305.31 323.67L307.27 324.73L309.24 325.80L311.20 326.88L313.16 327.97L315.12 329.07L317.08 330.17L319.05 331.28L321.01 332.40L322.97 333.53L324.93 334.67L326.90 335.82L328.86 336.97L330.82 338.13L332.78 339.30L334.75 340.48L336.71 341.66L338.67 342.85L340.63 344.04L342.59 345.24L344.56 346.45L346.52 347.65L348.48 348.87L350.44 350.08L352.41 351.30L354.37 352.53L356.33 353.76L358.29 355.00L360.25 356.24L362.22 357.48L364.18 358.73L366.14 359.99L368.10 361.25L370.07 362.51L372.03 363.78L373.99 365.05L375.95 366.32L377.92 367.60L379.88 368.88L381.84 370.16L383.80 371.45L385.76 372.74L387.73 374.03L389.69 375.33L391.65 376.63L393.61 377.93L395.58 379.24L397.54 380.54L399.50 381.86" fill="none" stroke="#ff0000" stroke-width="2.1"/>
<path d="M275.35 226.4V418.1" stroke="#626262" stroke-width="1.6" stroke-dasharray="5.2 2.9" stroke-dashoffset="2.5" fill="none"/>
<path d="M322.01 226.4V418.1" stroke="#626262" stroke-width="1.7" stroke-dasharray="2.4 2.55" stroke-dashoffset="2.45" fill="none"/>
</g>
<rect x="88.5" y="226.4" width="310.00" height="191.70" fill="none" stroke="#858585" stroke-width="1"/>
<path d="M88.50 418.10v-3.6M88.50 226.40v3.6M135.50 418.10v-2.1M135.50 226.40v2.1M162.50 418.10v-2.1M162.50 226.40v2.1M181.50 418.10v-2.1M181.50 226.40v2.1M196.50 418.10v-2.1M196.50 226.40v2.1M209.50 418.10v-2.1M209.50 226.40v2.1M219.50 418.10v-2.1M219.50 226.40v2.1M228.50 418.10v-2.1M228.50 226.40v2.1M236.50 418.10v-2.1M236.50 226.40v2.1M243.50 418.10v-3.6M243.50 226.40v3.6M290.50 418.10v-2.1M290.50 226.40v2.1M317.50 418.10v-2.1M317.50 226.40v2.1M336.50 418.10v-2.1M336.50 226.40v2.1M351.50 418.10v-2.1M351.50 226.40v2.1M364.50 418.10v-2.1M364.50 226.40v2.1M374.50 418.10v-2.1M374.50 226.40v2.1M383.50 418.10v-2.1M383.50 226.40v2.1M391.50 418.10v-2.1M391.50 226.40v2.1M398.50 418.10v-3.6M398.50 226.40v3.6M88.50 394.50h2.1M398.50 394.50h-2.1M88.50 377.50h2.1M398.50 377.50h-2.1M88.50 365.50h2.1M398.50 365.50h-2.1M88.50 356.50h2.1M398.50 356.50h-2.1M88.50 348.50h2.1M398.50 348.50h-2.1M88.50 342.50h2.1M398.50 342.50h-2.1M88.50 336.50h2.1M398.50 336.50h-2.1M88.50 332.50h2.1M398.50 332.50h-2.1M88.50 327.50h3.6M398.50 327.50h-3.6M88.50 298.50h2.1M398.50 298.50h-2.1M88.50 281.50h2.1M398.50 281.50h-2.1M88.50 269.50h2.1M398.50 269.50h-2.1M88.50 260.50h2.1M398.50 260.50h-2.1M88.50 252.50h2.1M398.50 252.50h-2.1M88.50 246.50h2.1M398.50 246.50h-2.1M88.50 240.50h2.1M398.50 240.50h-2.1M88.50 235.50h2.1M398.50 235.50h-2.1M88.50 231.50h3.6M398.50 231.50h-3.6" stroke="#777" stroke-width="1" fill="none"/>
<text x="60.3" y="236.9" font-size="15.5" fill="#000" stroke="#000" textLength="17.6" lengthAdjust="spacingAndGlyphs" >10</text>
<text x="78.5" y="230.2" font-size="10.6" fill="#000" stroke="#000" textLength="6.0" lengthAdjust="spacingAndGlyphs" >3</text>
<text x="60.3" y="333.1" font-size="15.5" fill="#000" stroke="#000" textLength="17.6" lengthAdjust="spacingAndGlyphs" >10</text>
<text x="78.5" y="326.4" font-size="10.6" fill="#000" stroke="#000" textLength="6.0" lengthAdjust="spacingAndGlyphs" >2</text>
<g transform="translate(49.2 372.9) rotate(-90)"><text x="0" y="0" font-size="13.8" stroke="#000" textLength="100" lengthAdjust="spacingAndGlyphs"><tspan font-style="italic">k</tspan><tspan font-size="10" dy="-7.6">2</tspan><tspan dy="7.6">P(k) [Mpc/h]</tspan></text></g>
<text x="110.2" y="364.7" font-size="13.5" fill="#000" stroke="#000" textLength="35.2" lengthAdjust="spacingAndGlyphs" >z=0.3</text>
<text x="109.5" y="383.5" font-size="13.5" fill="#000" stroke="#000" textLength="31.2" lengthAdjust="spacingAndGlyphs" >CDM</text>
<text x="110.4" y="403.0" font-size="13.5" fill="#ff0000" stroke="#ff0000" textLength="157.5" lengthAdjust="spacingAndGlyphs"><tspan font-style="italic">m</tspan><tspan font-size="9.9" dy="2.5">WDM</tspan><tspan dy="-2.5">=0.5 keV, </tspan><tspan font-style="italic">r</tspan><tspan font-size="9.9" dy="2.5">warm</tspan><tspan dy="-2.5">=0.5</tspan></text>
<text x="261.5" y="374.5" font-size="13.5" fill="#808080" stroke="#808080" textLength="56.6" lengthAdjust="spacingAndGlyphs"><tspan font-style="italic">k</tspan><tspan font-size="9.9" dy="2.5">Nyq</tspan><tspan dy="-2.5">(L10)</tspan></text>
<text x="293.2" y="392.6" font-size="13.5" fill="#808080" stroke="#808080" textLength="86" lengthAdjust="spacingAndGlyphs"><tspan font-style="italic">k</tspan><tspan font-size="9.9" dy="2.5">Nyq</tspan><tspan dy="-2.5">(L5,HL10)</tspan></text>
<text x="341.4" y="249.3" font-size="13.5" fill="#000" stroke="#000" textLength="15.2" lengthAdjust="spacingAndGlyphs" >L5</text>
<text x="341.4" y="268.9" font-size="13.5" fill="#000" stroke="#000" textLength="22.8" lengthAdjust="spacingAndGlyphs" >L10</text>
<text x="341.4" y="287.5" font-size="13.5" fill="#000" stroke="#000" textLength="33.0" lengthAdjust="spacingAndGlyphs" >HL10</text>
<circle cx="369.30" cy="245.49" r="4.4" fill="#000"/>
<path d="M376.60 261.78L380.00 268.08H373.20Z" fill="none" stroke="#000" stroke-width="0.9"/>
<circle cx="387.60" cy="283.57" r="3.7" fill="none" stroke="#000" stroke-width="0.9"/>
<g clip-path="url(#c2)">
<circle cx="224.89" cy="478.34" r="3.4" fill="#000"/><circle cx="244.26" cy="482.81" r="3.4" fill="#000"/><circle cx="259.28" cy="486.54" r="3.4" fill="#000"/><circle cx="271.55" cy="489.95" r="3.4" fill="#000"/><circle cx="281.93" cy="493.37" r="3.4" fill="#000"/><circle cx="290.92" cy="496.34" r="3.4" fill="#000"/><circle cx="298.84" cy="498.94" r="3.4" fill="#000"/><circle cx="305.94" cy="501.42" r="3.4" fill="#000"/><circle cx="312.35" cy="503.64" r="3.4" fill="#000"/><circle cx="318.21" cy="505.67" r="3.4" fill="#000"/><circle cx="323.60" cy="507.42" r="3.4" fill="#000"/><circle cx="328.59" cy="508.94" r="3.4" fill="#000"/><circle cx="333.23" cy="510.32" r="3.4" fill="#000"/><circle cx="337.58" cy="511.59" r="3.4" fill="#000"/><circle cx="341.66" cy="512.94" r="3.4" fill="#000"/><circle cx="345.50" cy="514.68" r="3.4" fill="#000"/><circle cx="349.14" cy="516.34" r="3.4" fill="#000"/><circle cx="352.60" cy="517.93" r="3.4" fill="#000"/><circle cx="355.88" cy="519.39" r="3.4" fill="#000"/><circle cx="359.01" cy="520.67" r="3.4" fill="#000"/><circle cx="362.00" cy="521.66" r="3.4" fill="#000"/><circle cx="364.87" cy="520.51" r="3.4" fill="#000"/><circle cx="367.08" cy="519.56" r="3.4" fill="#000"/><circle cx="224.89" cy="499.87" r="3.4" fill="#ff0000"/><circle cx="244.26" cy="506.13" r="3.4" fill="#ff0000"/><circle cx="259.28" cy="510.98" r="3.4" fill="#ff0000"/><circle cx="271.55" cy="515.31" r="3.4" fill="#ff0000"/><circle cx="281.93" cy="521.66" r="3.4" fill="#ff0000"/><circle cx="290.92" cy="527.39" r="3.4" fill="#ff0000"/><circle cx="298.84" cy="532.57" r="3.4" fill="#ff0000"/><circle cx="305.94" cy="537.11" r="3.4" fill="#ff0000"/><circle cx="312.35" cy="541.23" r="3.4" fill="#ff0000"/><circle cx="318.21" cy="545.01" r="3.4" fill="#ff0000"/><circle cx="323.60" cy="548.50" r="3.4" fill="#ff0000"/><circle cx="328.59" cy="551.64" r="3.4" fill="#ff0000"/><circle cx="333.23" cy="554.43" r="3.4" fill="#ff0000"/><circle cx="337.58" cy="557.04" r="3.4" fill="#ff0000"/><circle cx="341.66" cy="559.39" r="3.4" fill="#ff0000"/><circle cx="345.50" cy="561.34" r="3.4" fill="#ff0000"/><circle cx="349.14" cy="563.16" r="3.4" fill="#ff0000"/><circle cx="352.60" cy="564.87" r="3.4" fill="#ff0000"/><circle cx="355.88" cy="566.17" r="3.4" fill="#ff0000"/><circle cx="359.01" cy="566.94" r="3.4" fill="#ff0000"/><circle cx="362.00" cy="566.76" r="3.4" fill="#ff0000"/><circle cx="364.87" cy="565.88" r="3.4" fill="#ff0000"/><circle cx="367.08" cy="565.12" r="3.4" fill="#ff0000"/><path d="M178.23 454.54L182.58 463.66H173.88Z" fill="none" stroke="#000" stroke-width="1.0"/><path d="M197.60 456.68L201.95 465.80H193.25Z" fill="none" stroke="#000" stroke-width="1.0"/><path d="M212.62 459.11L216.97 468.23H208.27Z" fill="none" stroke="#000" stroke-width="1.0"/><path d="M224.89 462.47L229.24 471.59H220.54Z" fill="none" stroke="#000" stroke-width="1.0"/><path d="M235.27 465.53L239.62 474.65H230.92Z" fill="none" stroke="#000" stroke-width="1.0"/><path d="M244.26 469.08L248.61 478.20H239.91Z" fill="none" stroke="#000" stroke-width="1.0"/><path d="M252.19 472.38L256.54 481.50H247.84Z" fill="none" stroke="#000" stroke-width="1.0"/><path d="M259.28 475.46L263.63 484.58H254.93Z" fill="none" stroke="#000" stroke-width="1.0"/><path d="M265.69 477.89L270.04 487.01H261.34Z" fill="none" stroke="#000" stroke-width="1.0"/><path d="M271.55 480.16L275.90 489.28H267.20Z" fill="none" stroke="#000" stroke-width="1.0"/><path d="M276.94 482.28L281.29 491.40H272.59Z" fill="none" stroke="#000" stroke-width="1.0"/><path d="M281.93 484.26L286.28 493.38H277.58Z" fill="none" stroke="#000" stroke-width="1.0"/><path d="M286.57 486.10L290.92 495.22H282.22Z" fill="none" stroke="#000" stroke-width="1.0"/><path d="M290.92 487.83L295.27 496.95H286.57Z" fill="none" stroke="#000" stroke-width="1.0"/><path d="M295.00 489.48L299.35 498.60H290.65Z" fill="none" stroke="#000" stroke-width="1.0"/><path d="M298.84 491.04L303.19 500.16H294.49Z" fill="none" stroke="#000" stroke-width="1.0"/><path d="M302.48 492.49L306.83 501.61H298.13Z" fill="none" stroke="#000" stroke-width="1.0"/><path d="M305.94 493.87L310.29 502.99H301.59Z" fill="none" stroke="#000" stroke-width="1.0"/><path d="M309.22 495.19L313.57 504.31H304.87Z" fill="none" stroke="#000" stroke-width="1.0"/><path d="M312.35 495.42L316.70 504.54H308.00Z" fill="none" stroke="#000" stroke-width="1.0"/><path d="M315.35 495.59L319.70 504.71H311.00Z" fill="none" stroke="#000" stroke-width="1.0"/><path d="M318.21 494.73L322.56 503.85H313.86Z" fill="none" stroke="#000" stroke-width="1.0"/><path d="M320.96 492.81L325.31 501.93H316.61Z" fill="none" stroke="#000" stroke-width="1.0"/><path d="M178.23 466.21L182.58 475.33H173.88Z" fill="none" stroke="#ff0000" stroke-width="1.0"/><path d="M197.60 470.30L201.95 479.42H193.25Z" fill="none" stroke="#ff0000" stroke-width="1.0"/><path d="M212.62 475.34L216.97 484.46H208.27Z" fill="none" stroke="#ff0000" stroke-width="1.0"/><path d="M224.89 479.61L229.24 488.73H220.54Z" fill="none" stroke="#ff0000" stroke-width="1.0"/><path d="M235.27 484.92L239.62 494.04H230.92Z" fill="none" stroke="#ff0000" stroke-width="1.0"/><path d="M244.26 489.90L248.61 499.02H239.91Z" fill="none" stroke="#ff0000" stroke-width="1.0"/><path d="M252.19 494.52L256.54 503.64H247.84Z" fill="none" stroke="#ff0000" stroke-width="1.0"/><path d="M259.28 498.84L263.63 507.96H254.93Z" fill="none" stroke="#ff0000" stroke-width="1.0"/><path d="M265.69 502.73L270.04 511.85H261.34Z" fill="none" stroke="#ff0000" stroke-width="1.0"/><path d="M271.55 506.40L275.90 515.52H267.20Z" fill="none" stroke="#ff0000" stroke-width="1.0"/><path d="M276.94 509.84L281.29 518.96H272.59Z" fill="none" stroke="#ff0000" stroke-width="1.0"/><path d="M281.93 513.09L286.28 522.21H277.58Z" fill="none" stroke="#ff0000" stroke-width="1.0"/><path d="M286.57 516.18L290.92 525.30H282.22Z" fill="none" stroke="#ff0000" stroke-width="1.0"/><path d="M290.92 519.11L295.27 528.23H286.57Z" fill="none" stroke="#ff0000" stroke-width="1.0"/><path d="M295.00 521.89L299.35 531.01H290.65Z" fill="none" stroke="#ff0000" stroke-width="1.0"/><path d="M298.84 523.47L303.19 532.59H294.49Z" fill="none" stroke="#ff0000" stroke-width="1.0"/><path d="M302.48 524.92L306.83 534.04H298.13Z" fill="none" stroke="#ff0000" stroke-width="1.0"/><path d="M305.94 525.20L310.29 534.32H301.59Z" fill="none" stroke="#ff0000" stroke-width="1.0"/><path d="M309.22 525.36L313.57 534.48H304.87Z" fill="none" stroke="#ff0000" stroke-width="1.0"/><path d="M312.35 524.82L316.70 533.94H308.00Z" fill="none" stroke="#ff0000" stroke-width="1.0"/><path d="M315.35 523.93L319.70 533.05H311.00Z" fill="none" stroke="#ff0000" stroke-width="1.0"/><path d="M318.21 522.37L322.56 531.49H313.86Z" fill="none" stroke="#ff0000" stroke-width="1.0"/><path d="M320.96 520.49L325.31 529.61H316.61Z" fill="none" stroke="#ff0000" stroke-width="1.0"/><circle cx="178.23" cy="460.84" r="3.4" fill="none" stroke="#000" stroke-width="1.0"/><circle cx="197.60" cy="465.55" r="3.4" fill="none" stroke="#000" stroke-width="1.0"/><circle cx="212.62" cy="469.49" r="3.4" fill="none" stroke="#000" stroke-width="1.0"/><circle cx="224.89" cy="472.08" r="3.4" fill="none" stroke="#000" stroke-width="1.0"/><circle cx="235.27" cy="475.23" r="3.4" fill="none" stroke="#000" stroke-width="1.0"/><circle cx="244.26" cy="478.25" r="3.4" fill="none" stroke="#000" stroke-width="1.0"/><circle cx="252.19" cy="481.01" r="3.4" fill="none" stroke="#000" stroke-width="1.0"/><circle cx="259.28" cy="483.54" r="3.4" fill="none" stroke="#000" stroke-width="1.0"/><circle cx="265.69" cy="485.88" r="3.4" fill="none" stroke="#000" stroke-width="1.0"/><circle cx="271.55" cy="488.06" r="3.4" fill="none" stroke="#000" stroke-width="1.0"/><circle cx="276.94" cy="490.04" r="3.4" fill="none" stroke="#000" stroke-width="1.0"/><circle cx="281.93" cy="491.88" r="3.4" fill="none" stroke="#000" stroke-width="1.0"/><circle cx="286.57" cy="493.61" r="3.4" fill="none" stroke="#000" stroke-width="1.0"/><circle cx="290.92" cy="495.23" r="3.4" fill="none" stroke="#000" stroke-width="1.0"/><circle cx="295.00" cy="496.76" r="3.4" fill="none" stroke="#000" stroke-width="1.0"/><circle cx="298.84" cy="498.21" r="3.4" fill="none" stroke="#000" stroke-width="1.0"/><circle cx="302.48" cy="499.59" r="3.4" fill="none" stroke="#000" stroke-width="1.0"/><circle cx="305.94" cy="500.89" r="3.4" fill="none" stroke="#000" stroke-width="1.0"/><circle cx="309.22" cy="502.14" r="3.4" fill="none" stroke="#000" stroke-width="1.0"/><circle cx="312.35" cy="503.33" r="3.4" fill="none" stroke="#000" stroke-width="1.0"/><circle cx="315.35" cy="504.47" r="3.4" fill="none" stroke="#000" stroke-width="1.0"/><circle cx="318.21" cy="505.56" r="3.4" fill="none" stroke="#000" stroke-width="1.0"/><circle cx="320.96" cy="506.61" r="3.4" fill="none" stroke="#000" stroke-width="1.0"/><circle cx="178.23" cy="469.51" r="3.4" fill="none" stroke="#ff0000" stroke-width="1.0"/><circle cx="197.60" cy="477.46" r="3.4" fill="none" stroke="#ff0000" stroke-width="1.0"/><circle cx="212.62" cy="481.85" r="3.4" fill="none" stroke="#ff0000" stroke-width="1.0"/><circle cx="224.89" cy="487.19" r="3.4" fill="none" stroke="#ff0000" stroke-width="1.0"/><circle cx="235.27" cy="492.11" r="3.4" fill="none" stroke="#ff0000" stroke-width="1.0"/><circle cx="244.26" cy="496.64" r="3.4" fill="none" stroke="#ff0000" stroke-width="1.0"/><circle cx="252.19" cy="500.81" r="3.4" fill="none" stroke="#ff0000" stroke-width="1.0"/><circle cx="259.28" cy="504.67" r="3.4" fill="none" stroke="#ff0000" stroke-width="1.0"/><circle cx="265.69" cy="508.27" r="3.4" fill="none" stroke="#ff0000" stroke-width="1.0"/><circle cx="271.55" cy="511.64" r="3.4" fill="none" stroke="#ff0000" stroke-width="1.0"/><circle cx="276.94" cy="514.56" r="3.4" fill="none" stroke="#ff0000" stroke-width="1.0"/><circle cx="281.93" cy="517.28" r="3.4" fill="none" stroke="#ff0000" stroke-width="1.0"/><circle cx="286.57" cy="519.82" r="3.4" fill="none" stroke="#ff0000" stroke-width="1.0"/><circle cx="290.92" cy="522.20" r="3.4" fill="none" stroke="#ff0000" stroke-width="1.0"/><circle cx="295.00" cy="524.44" r="3.4" fill="none" stroke="#ff0000" stroke-width="1.0"/><circle cx="298.84" cy="526.57" r="3.4" fill="none" stroke="#ff0000" stroke-width="1.0"/><circle cx="302.48" cy="528.57" r="3.4" fill="none" stroke="#ff0000" stroke-width="1.0"/><circle cx="305.94" cy="530.47" r="3.4" fill="none" stroke="#ff0000" stroke-width="1.0"/><circle cx="309.22" cy="531.70" r="3.4" fill="none" stroke="#ff0000" stroke-width="1.0"/><circle cx="312.35" cy="532.85" r="3.4" fill="none" stroke="#ff0000" stroke-width="1.0"/><circle cx="315.35" cy="533.90" r="3.4" fill="none" stroke="#ff0000" stroke-width="1.0"/><circle cx="318.21" cy="534.88" r="3.4" fill="none" stroke="#ff0000" stroke-width="1.0"/><circle cx="320.96" cy="535.79" r="3.4" fill="none" stroke="#ff0000" stroke-width="1.0"/>
<path d="M87.50 444.62L89.46 444.66L91.42 444.71L93.39 444.77L95.35 444.84L97.31 444.92L99.27 445.01L101.24 445.11L103.20 445.22L105.16 445.34L107.12 445.46L109.08 445.60L111.05 445.74L113.01 445.89L114.97 446.06L116.93 446.23L118.90 446.41L120.86 446.60L122.82 446.80L124.78 447.01L126.75 447.23L128.71 447.45L130.67 447.69L132.63 447.93L134.59 448.19L136.56 448.45L138.52 448.72L140.48 449.00L142.44 449.29L144.41 449.59L146.37 449.89L148.33 450.20L150.29 450.53L152.25 450.86L154.22 451.19L156.18 451.54L158.14 451.89L160.10 452.26L162.07 452.63L164.03 453.01L165.99 453.40L167.95 453.79L169.92 454.19L171.88 454.60L173.84 455.02L175.80 455.45L177.76 455.88L179.73 456.32L181.69 456.76L183.65 457.22L185.61 457.68L187.58 458.15L189.54 458.63L191.50 459.11L193.46 459.60L195.42 460.10L197.39 460.61L199.35 461.12L201.31 461.64L203.27 462.17L205.24 462.70L207.20 463.25L209.16 463.80L211.12 464.35L213.08 464.92L215.05 465.49L217.01 466.07L218.97 466.65L220.93 467.25L222.90 467.84L224.86 468.45L226.82 469.06L228.78 469.68L230.75 470.31L232.71 470.94L234.67 471.58L236.63 472.23L238.59 472.88L240.56 473.54L242.52 474.20L244.48 474.87L246.44 475.54L248.41 476.22L250.37 476.90L252.33 477.59L254.29 478.28L256.25 478.98L258.22 479.68L260.18 480.38L262.14 481.09L264.10 481.81L266.07 482.53L268.03 483.25L269.99 483.98L271.95 484.71L273.92 485.44L275.88 486.18L277.84 486.91L279.80 487.65L281.76 488.40L283.73 489.14L285.69 489.89L287.65 490.63L289.61 491.38L291.58 492.14L293.54 492.89L295.50 493.65L297.46 494.40L299.42 495.16L301.39 495.93L303.35 496.69L305.31 497.46L307.27 498.22L309.24 498.99L311.20 499.76L313.16 500.53L315.12 501.31L317.08 502.08L319.05 502.86L321.01 503.63L322.97 504.41L324.93 505.19L326.90 505.97L328.86 506.76L330.82 507.54L332.78 508.33L334.75 509.12L336.71 509.91L338.67 510.70L340.63 511.49L342.59 512.29L344.56 513.08L346.52 513.89L348.48 514.69L350.44 515.49L352.41 516.30L354.37 517.11L356.33 517.92L358.29 518.73L360.25 519.55L362.22 520.36L364.18 521.18L366.14 522.00L368.10 522.83L370.07 523.65L372.03 524.48L373.99 525.31L375.95 526.15L377.92 526.98L379.88 527.82L381.84 528.66L383.80 529.51L385.76 530.35L387.73 531.20L389.69 532.05L391.65 532.91L393.61 533.76L395.58 534.62L397.54 535.48L399.50 536.35" fill="none" stroke="#000" stroke-width="2.1"/>
<path d="M87.50 447.15L89.46 447.32L91.42 447.50L93.39 447.69L95.35 447.90L97.31 448.11L99.27 448.34L101.24 448.58L103.20 448.84L105.16 449.10L107.12 449.38L109.08 449.67L111.05 449.97L113.01 450.29L114.97 450.62L116.93 450.95L118.90 451.30L120.86 451.67L122.82 452.04L124.78 452.42L126.75 452.82L128.71 453.22L130.67 453.64L132.63 454.07L134.59 454.51L136.56 454.96L138.52 455.42L140.48 455.89L142.44 456.38L144.41 456.87L146.37 457.37L148.33 457.88L150.29 458.40L152.25 458.93L154.22 459.47L156.18 460.02L158.14 460.58L160.10 461.14L162.07 461.72L164.03 462.30L165.99 462.89L167.95 463.50L169.92 464.11L171.88 464.73L173.84 465.36L175.80 465.99L177.76 466.64L179.73 467.29L181.69 467.95L183.65 468.63L185.61 469.30L187.58 469.99L189.54 470.69L191.50 471.40L193.46 472.11L195.42 472.84L197.39 473.58L199.35 474.33L201.31 475.09L203.27 475.86L205.24 476.64L207.20 477.44L209.16 478.24L211.12 479.06L213.08 479.88L215.05 480.72L217.01 481.57L218.97 482.43L220.93 483.30L222.90 484.19L224.86 485.08L226.82 485.99L228.78 486.91L230.75 487.84L232.71 488.79L234.67 489.74L236.63 490.71L238.59 491.69L240.56 492.68L242.52 493.68L244.48 494.69L246.44 495.72L248.41 496.75L250.37 497.79L252.33 498.84L254.29 499.90L256.25 500.97L258.22 502.05L260.18 503.14L262.14 504.24L264.10 505.35L266.07 506.47L268.03 507.59L269.99 508.73L271.95 509.88L273.92 511.03L275.88 512.18L277.84 513.34L279.80 514.51L281.76 515.68L283.73 516.85L285.69 518.03L287.65 519.22L289.61 520.41L291.58 521.60L293.54 522.80L295.50 524.00L297.46 525.21L299.42 526.43L301.39 527.64L303.35 528.86L305.31 530.08L307.27 531.29L309.24 532.51L311.20 533.73L313.16 534.95L315.12 536.17L317.08 537.38L319.05 538.60L321.01 539.82L322.97 541.04L324.93 542.26L326.90 543.48L328.86 544.70L330.82 545.92L332.78 547.14L334.75 548.36L336.71 549.58L338.67 550.80L340.63 552.02L342.59 553.24L344.56 554.46L346.52 555.68L348.48 556.90L350.44 558.12L352.41 559.34L354.37 560.56L356.33 561.78L358.29 563.00L360.25 564.22L362.22 565.44L364.18 566.66L366.14 567.88L368.10 569.10L370.07 570.32L372.03 571.54L373.99 572.76L375.95 573.97L377.92 575.19L379.88 576.41L381.84 577.63L383.80 578.85L385.76 580.07L387.73 581.29L389.69 582.51L391.65 583.73L393.61 584.95L395.58 586.17L397.54 587.39L399.50 588.61" fill="none" stroke="#ff0000" stroke-width="2.1"/>
<path d="M275.35 433.2V624.6" stroke="#626262" stroke-width="1.6" stroke-dasharray="5.2 2.9" stroke-dashoffset="2.5" fill="none"/>
<path d="M322.01 433.2V624.6" stroke="#626262" stroke-width="1.7" stroke-dasharray="2.4 2.55" stroke-dashoffset="2.45" fill="none"/>
</g>
<rect x="88.5" y="433.2" width="310.00" height="191.40" fill="none" stroke="#858585" stroke-width="1"/>
<path d="M88.50 624.60v-3.6M88.50 433.20v3.6M135.50 624.60v-2.1M135.50 433.20v2.1M162.50 624.60v-2.1M162.50 433.20v2.1M181.50 624.60v-2.1M181.50 433.20v2.1M196.50 624.60v-2.1M196.50 433.20v2.1M209.50 624.60v-2.1M209.50 433.20v2.1M219.50 624.60v-2.1M219.50 433.20v2.1M228.50 624.60v-2.1M228.50 433.20v2.1M236.50 624.60v-2.1M236.50 433.20v2.1M243.50 624.60v-3.6M243.50 433.20v3.6M290.50 624.60v-2.1M290.50 433.20v2.1M317.50 624.60v-2.1M317.50 433.20v2.1M336.50 624.60v-2.1M336.50 433.20v2.1M351.50 624.60v-2.1M351.50 433.20v2.1M364.50 624.60v-2.1M364.50 433.20v2.1M374.50 624.60v-2.1M374.50 433.20v2.1M383.50 624.60v-2.1M383.50 433.20v2.1M391.50 624.60v-2.1M391.50 433.20v2.1M398.50 624.60v-3.6M398.50 433.20v3.6M88.50 620.50h2.1M398.50 620.50h-2.1M88.50 610.50h2.1M398.50 610.50h-2.1M88.50 603.50h2.1M398.50 603.50h-2.1M88.50 596.50h2.1M398.50 596.50h-2.1M88.50 591.50h2.1M398.50 591.50h-2.1M88.50 586.50h2.1M398.50 586.50h-2.1M88.50 581.50h3.6M398.50 581.50h-3.6M88.50 552.50h2.1M398.50 552.50h-2.1M88.50 535.50h2.1M398.50 535.50h-2.1M88.50 523.50h2.1M398.50 523.50h-2.1M88.50 514.50h2.1M398.50 514.50h-2.1M88.50 506.50h2.1M398.50 506.50h-2.1M88.50 500.50h2.1M398.50 500.50h-2.1M88.50 494.50h2.1M398.50 494.50h-2.1M88.50 489.50h2.1M398.50 489.50h-2.1M88.50 485.50h3.6M398.50 485.50h-3.6M88.50 456.50h2.1M398.50 456.50h-2.1M88.50 439.50h2.1M398.50 439.50h-2.1" stroke="#777" stroke-width="1" fill="none"/>
<text x="60.3" y="490.9" font-size="15.5" fill="#000" stroke="#000" textLength="17.6" lengthAdjust="spacingAndGlyphs" >10</text>
<text x="78.5" y="484.2" font-size="10.6" fill="#000" stroke="#000" textLength="6.0" lengthAdjust="spacingAndGlyphs" >2</text>
<text x="60.3" y="587.2" font-size="15.5" fill="#000" stroke="#000" textLength="17.6" lengthAdjust="spacingAndGlyphs" >10</text>
<text x="78.5" y="580.5" font-size="10.6" fill="#000" stroke="#000" textLength="6.0" lengthAdjust="spacingAndGlyphs" >1</text>
<g transform="translate(49.2 579.5) rotate(-90)"><text x="0" y="0" font-size="13.8" stroke="#000" textLength="100" lengthAdjust="spacingAndGlyphs"><tspan font-style="italic">k</tspan><tspan font-size="10" dy="-7.6">2</tspan><tspan dy="7.6">P(k) [Mpc/h]</tspan></text></g>
<text x="110.2" y="571.3" font-size="13.5" fill="#000" stroke="#000" textLength="23.6" lengthAdjust="spacingAndGlyphs" >z=1</text>
<text x="109.5" y="590.1" font-size="13.5" fill="#000" stroke="#000" textLength="31.2" lengthAdjust="spacingAndGlyphs" >CDM</text>
<text x="110.4" y="609.5" font-size="13.5" fill="#ff0000" stroke="#ff0000" textLength="157.5" lengthAdjust="spacingAndGlyphs"><tspan font-style="italic">m</tspan><tspan font-size="9.9" dy="2.5">WDM</tspan><tspan dy="-2.5">=0.5 keV, </tspan><tspan font-style="italic">r</tspan><tspan font-size="9.9" dy="2.5">warm</tspan><tspan dy="-2.5">=0.5</tspan></text>
<text x="261.5" y="581.1" font-size="13.5" fill="#808080" stroke="#808080" textLength="56.6" lengthAdjust="spacingAndGlyphs"><tspan font-style="italic">k</tspan><tspan font-size="9.9" dy="2.5">Nyq</tspan><tspan dy="-2.5">(L10)</tspan></text>
<text x="293.2" y="599.2" font-size="13.5" fill="#808080" stroke="#808080" textLength="86" lengthAdjust="spacingAndGlyphs"><tspan font-style="italic">k</tspan><tspan font-size="9.9" dy="2.5">Nyq</tspan><tspan dy="-2.5">(L5,HL10)</tspan></text>
<text x="341.4" y="456.1" font-size="13.5" fill="#000" stroke="#000" textLength="15.2" lengthAdjust="spacingAndGlyphs" >L5</text>
<text x="341.4" y="475.6" font-size="13.5" fill="#000" stroke="#000" textLength="22.8" lengthAdjust="spacingAndGlyphs" >L10</text>
<text x="341.4" y="494.2" font-size="13.5" fill="#000" stroke="#000" textLength="33.0" lengthAdjust="spacingAndGlyphs" >HL10</text>
<circle cx="369.30" cy="452.26" r="4.4" fill="#000"/>
<path d="M376.60 468.53L380.00 474.83H373.20Z" fill="none" stroke="#000" stroke-width="0.9"/>
<circle cx="387.60" cy="490.28" r="3.7" fill="none" stroke="#000" stroke-width="0.9"/>
<g clip-path="url(#c3)">
<circle cx="223.97" cy="695.25" r="3.4" fill="#000"/><circle cx="243.15" cy="698.75" r="3.4" fill="#000"/><circle cx="258.03" cy="702.39" r="3.4" fill="#000"/><circle cx="270.18" cy="705.29" r="3.4" fill="#000"/><circle cx="280.46" cy="709.15" r="3.4" fill="#000"/><circle cx="289.36" cy="712.55" r="3.4" fill="#000"/><circle cx="297.21" cy="715.70" r="3.4" fill="#000"/><circle cx="304.24" cy="718.57" r="3.4" fill="#000"/><circle cx="310.59" cy="720.92" r="3.4" fill="#000"/><circle cx="316.39" cy="723.07" r="3.4" fill="#000"/><circle cx="321.73" cy="725.05" r="3.4" fill="#000"/><circle cx="326.67" cy="726.13" r="3.4" fill="#000"/><circle cx="331.27" cy="727.09" r="3.4" fill="#000"/><circle cx="335.57" cy="727.93" r="3.4" fill="#000"/><circle cx="339.61" cy="728.68" r="3.4" fill="#000"/><circle cx="343.42" cy="729.82" r="3.4" fill="#000"/><circle cx="347.03" cy="731.14" r="3.4" fill="#000"/><circle cx="350.44" cy="732.40" r="3.4" fill="#000"/><circle cx="353.70" cy="733.22" r="3.4" fill="#000"/><circle cx="356.80" cy="733.94" r="3.4" fill="#000"/><circle cx="359.76" cy="733.56" r="3.4" fill="#000"/><circle cx="362.60" cy="732.45" r="3.4" fill="#000"/><circle cx="364.79" cy="730.87" r="3.4" fill="#000"/><circle cx="223.97" cy="728.09" r="3.4" fill="#ff0000"/><circle cx="243.15" cy="734.08" r="3.4" fill="#ff0000"/><circle cx="258.03" cy="740.07" r="3.4" fill="#ff0000"/><circle cx="270.18" cy="746.29" r="3.4" fill="#ff0000"/><circle cx="280.46" cy="750.73" r="3.4" fill="#ff0000"/><circle cx="289.36" cy="755.99" r="3.4" fill="#ff0000"/><circle cx="297.21" cy="760.44" r="3.4" fill="#ff0000"/><circle cx="304.24" cy="763.56" r="3.4" fill="#ff0000"/><circle cx="310.59" cy="767.10" r="3.4" fill="#ff0000"/><circle cx="316.39" cy="769.92" r="3.4" fill="#ff0000"/><circle cx="321.73" cy="771.82" r="3.4" fill="#ff0000"/><circle cx="326.67" cy="773.48" r="3.4" fill="#ff0000"/><circle cx="331.27" cy="774.94" r="3.4" fill="#ff0000"/><circle cx="335.57" cy="776.22" r="3.4" fill="#ff0000"/><circle cx="339.61" cy="777.34" r="3.4" fill="#ff0000"/><circle cx="343.42" cy="778.50" r="3.4" fill="#ff0000"/><circle cx="347.03" cy="779.63" r="3.4" fill="#ff0000"/><circle cx="350.44" cy="780.64" r="3.4" fill="#ff0000"/><circle cx="353.70" cy="781.55" r="3.4" fill="#ff0000"/><circle cx="356.80" cy="782.29" r="3.4" fill="#ff0000"/><circle cx="359.76" cy="781.06" r="3.4" fill="#ff0000"/><circle cx="362.60" cy="778.86" r="3.4" fill="#ff0000"/><circle cx="364.79" cy="777.04" r="3.4" fill="#ff0000"/><path d="M177.77 681.17L182.12 690.29H173.42Z" fill="none" stroke="#000" stroke-width="1.0"/><path d="M196.95 683.13L201.30 692.25H192.60Z" fill="none" stroke="#000" stroke-width="1.0"/><path d="M211.82 685.27L216.17 694.39H207.47Z" fill="none" stroke="#000" stroke-width="1.0"/><path d="M223.98 688.56L228.33 697.68H219.63Z" fill="none" stroke="#000" stroke-width="1.0"/><path d="M234.25 690.67L238.60 699.79H229.90Z" fill="none" stroke="#000" stroke-width="1.0"/><path d="M243.15 692.91L247.50 702.03H238.80Z" fill="none" stroke="#000" stroke-width="1.0"/><path d="M251.01 694.87L255.36 703.99H246.66Z" fill="none" stroke="#000" stroke-width="1.0"/><path d="M258.03 696.59L262.38 705.71H253.68Z" fill="none" stroke="#000" stroke-width="1.0"/><path d="M264.38 698.12L268.73 707.24H260.03Z" fill="none" stroke="#000" stroke-width="1.0"/><path d="M270.18 699.49L274.53 708.61H265.83Z" fill="none" stroke="#000" stroke-width="1.0"/><path d="M275.52 700.87L279.87 709.99H271.17Z" fill="none" stroke="#000" stroke-width="1.0"/><path d="M280.46 702.74L284.81 711.86H276.11Z" fill="none" stroke="#000" stroke-width="1.0"/><path d="M285.06 704.49L289.41 713.61H280.71Z" fill="none" stroke="#000" stroke-width="1.0"/><path d="M289.36 706.15L293.71 715.27H285.01Z" fill="none" stroke="#000" stroke-width="1.0"/><path d="M293.40 706.92L297.75 716.04H289.05Z" fill="none" stroke="#000" stroke-width="1.0"/><path d="M297.21 707.42L301.56 716.54H292.86Z" fill="none" stroke="#000" stroke-width="1.0"/><path d="M300.82 707.84L305.17 716.96H296.47Z" fill="none" stroke="#000" stroke-width="1.0"/><path d="M304.24 707.62L308.59 716.74H299.89Z" fill="none" stroke="#000" stroke-width="1.0"/><path d="M307.49 707.34L311.84 716.46H303.14Z" fill="none" stroke="#000" stroke-width="1.0"/><path d="M310.59 706.99L314.94 716.11H306.24Z" fill="none" stroke="#000" stroke-width="1.0"/><path d="M313.55 706.59L317.90 715.71H309.20Z" fill="none" stroke="#000" stroke-width="1.0"/><path d="M316.39 705.05L320.74 714.17H312.04Z" fill="none" stroke="#000" stroke-width="1.0"/><path d="M319.11 703.01L323.46 712.13H314.76Z" fill="none" stroke="#000" stroke-width="1.0"/><path d="M177.77 693.45L182.12 702.57H173.42Z" fill="none" stroke="#ff0000" stroke-width="1.0"/><path d="M196.95 697.70L201.30 706.82H192.60Z" fill="none" stroke="#ff0000" stroke-width="1.0"/><path d="M211.82 703.83L216.17 712.95H207.47Z" fill="none" stroke="#ff0000" stroke-width="1.0"/><path d="M223.98 709.23L228.33 718.35H219.63Z" fill="none" stroke="#ff0000" stroke-width="1.0"/><path d="M234.25 714.43L238.60 723.55H229.90Z" fill="none" stroke="#ff0000" stroke-width="1.0"/><path d="M243.15 718.30L247.50 727.42H238.80Z" fill="none" stroke="#ff0000" stroke-width="1.0"/><path d="M251.01 721.75L255.36 730.87H246.66Z" fill="none" stroke="#ff0000" stroke-width="1.0"/><path d="M258.03 724.84L262.38 733.96H253.68Z" fill="none" stroke="#ff0000" stroke-width="1.0"/><path d="M264.38 727.72L268.73 736.84H260.03Z" fill="none" stroke="#ff0000" stroke-width="1.0"/><path d="M270.18 730.36L274.53 739.48H265.83Z" fill="none" stroke="#ff0000" stroke-width="1.0"/><path d="M275.52 732.80L279.87 741.92H271.17Z" fill="none" stroke="#ff0000" stroke-width="1.0"/><path d="M280.46 735.14L284.81 744.26H276.11Z" fill="none" stroke="#ff0000" stroke-width="1.0"/><path d="M285.06 737.31L289.41 746.43H280.71Z" fill="none" stroke="#ff0000" stroke-width="1.0"/><path d="M289.36 739.34L293.71 748.46H285.01Z" fill="none" stroke="#ff0000" stroke-width="1.0"/><path d="M293.40 740.45L297.75 749.57H289.05Z" fill="none" stroke="#ff0000" stroke-width="1.0"/><path d="M297.21 741.26L301.56 750.38H292.86Z" fill="none" stroke="#ff0000" stroke-width="1.0"/><path d="M300.82 741.96L305.17 751.08H296.47Z" fill="none" stroke="#ff0000" stroke-width="1.0"/><path d="M304.24 742.09L308.59 751.21H299.89Z" fill="none" stroke="#ff0000" stroke-width="1.0"/><path d="M307.49 741.82L311.84 750.94H303.14Z" fill="none" stroke="#ff0000" stroke-width="1.0"/><path d="M310.59 741.46L314.94 750.58H306.24Z" fill="none" stroke="#ff0000" stroke-width="1.0"/><path d="M313.55 740.66L317.90 749.78H309.20Z" fill="none" stroke="#ff0000" stroke-width="1.0"/><path d="M316.39 738.94L320.74 748.06H312.04Z" fill="none" stroke="#ff0000" stroke-width="1.0"/><path d="M319.11 737.15L323.46 746.27H314.76Z" fill="none" stroke="#ff0000" stroke-width="1.0"/><circle cx="177.77" cy="682.07" r="3.4" fill="none" stroke="#000" stroke-width="1.0"/><circle cx="196.95" cy="686.24" r="3.4" fill="none" stroke="#000" stroke-width="1.0"/><circle cx="211.82" cy="689.66" r="3.4" fill="none" stroke="#000" stroke-width="1.0"/><circle cx="223.98" cy="692.27" r="3.4" fill="none" stroke="#000" stroke-width="1.0"/><circle cx="234.25" cy="695.23" r="3.4" fill="none" stroke="#000" stroke-width="1.0"/><circle cx="243.15" cy="697.88" r="3.4" fill="none" stroke="#000" stroke-width="1.0"/><circle cx="251.01" cy="700.25" r="3.4" fill="none" stroke="#000" stroke-width="1.0"/><circle cx="258.03" cy="702.38" r="3.4" fill="none" stroke="#000" stroke-width="1.0"/><circle cx="264.38" cy="704.32" r="3.4" fill="none" stroke="#000" stroke-width="1.0"/><circle cx="270.18" cy="706.10" r="3.4" fill="none" stroke="#000" stroke-width="1.0"/><circle cx="275.52" cy="707.95" r="3.4" fill="none" stroke="#000" stroke-width="1.0"/><circle cx="280.46" cy="709.67" r="3.4" fill="none" stroke="#000" stroke-width="1.0"/><circle cx="285.06" cy="711.28" r="3.4" fill="none" stroke="#000" stroke-width="1.0"/><circle cx="289.36" cy="712.79" r="3.4" fill="none" stroke="#000" stroke-width="1.0"/><circle cx="293.40" cy="714.22" r="3.4" fill="none" stroke="#000" stroke-width="1.0"/><circle cx="297.21" cy="715.56" r="3.4" fill="none" stroke="#000" stroke-width="1.0"/><circle cx="300.82" cy="716.84" r="3.4" fill="none" stroke="#000" stroke-width="1.0"/><circle cx="304.24" cy="718.05" r="3.4" fill="none" stroke="#000" stroke-width="1.0"/><circle cx="307.49" cy="719.20" r="3.4" fill="none" stroke="#000" stroke-width="1.0"/><circle cx="310.59" cy="720.30" r="3.4" fill="none" stroke="#000" stroke-width="1.0"/><circle cx="313.55" cy="721.35" r="3.4" fill="none" stroke="#000" stroke-width="1.0"/><circle cx="316.39" cy="722.35" r="3.4" fill="none" stroke="#000" stroke-width="1.0"/><circle cx="319.11" cy="723.31" r="3.4" fill="none" stroke="#000" stroke-width="1.0"/><circle cx="177.77" cy="694.15" r="3.4" fill="none" stroke="#ff0000" stroke-width="1.0"/><circle cx="196.95" cy="702.10" r="3.4" fill="none" stroke="#ff0000" stroke-width="1.0"/><circle cx="211.82" cy="707.53" r="3.4" fill="none" stroke="#ff0000" stroke-width="1.0"/><circle cx="223.98" cy="713.18" r="3.4" fill="none" stroke="#ff0000" stroke-width="1.0"/><circle cx="234.25" cy="718.13" r="3.4" fill="none" stroke="#ff0000" stroke-width="1.0"/><circle cx="243.15" cy="722.54" r="3.4" fill="none" stroke="#ff0000" stroke-width="1.0"/><circle cx="251.01" cy="726.64" r="3.4" fill="none" stroke="#ff0000" stroke-width="1.0"/><circle cx="258.03" cy="730.39" r="3.4" fill="none" stroke="#ff0000" stroke-width="1.0"/><circle cx="264.38" cy="733.85" r="3.4" fill="none" stroke="#ff0000" stroke-width="1.0"/><circle cx="270.18" cy="737.06" r="3.4" fill="none" stroke="#ff0000" stroke-width="1.0"/><circle cx="275.52" cy="740.05" r="3.4" fill="none" stroke="#ff0000" stroke-width="1.0"/><circle cx="280.46" cy="742.84" r="3.4" fill="none" stroke="#ff0000" stroke-width="1.0"/><circle cx="285.06" cy="745.47" r="3.4" fill="none" stroke="#ff0000" stroke-width="1.0"/><circle cx="289.36" cy="747.83" r="3.4" fill="none" stroke="#ff0000" stroke-width="1.0"/><circle cx="293.40" cy="750.05" r="3.4" fill="none" stroke="#ff0000" stroke-width="1.0"/><circle cx="297.21" cy="752.16" r="3.4" fill="none" stroke="#ff0000" stroke-width="1.0"/><circle cx="300.82" cy="754.16" r="3.4" fill="none" stroke="#ff0000" stroke-width="1.0"/><circle cx="304.24" cy="756.06" r="3.4" fill="none" stroke="#ff0000" stroke-width="1.0"/><circle cx="307.49" cy="757.22" r="3.4" fill="none" stroke="#ff0000" stroke-width="1.0"/><circle cx="310.59" cy="758.29" r="3.4" fill="none" stroke="#ff0000" stroke-width="1.0"/><circle cx="313.55" cy="759.28" r="3.4" fill="none" stroke="#ff0000" stroke-width="1.0"/><circle cx="316.39" cy="760.20" r="3.4" fill="none" stroke="#ff0000" stroke-width="1.0"/><circle cx="319.11" cy="761.05" r="3.4" fill="none" stroke="#ff0000" stroke-width="1.0"/>
<path d="M87.50 667.75L89.44 667.59L91.39 667.43L93.33 667.29L95.27 667.16L97.22 667.05L99.16 666.95L101.10 666.86L103.05 666.79L104.99 666.73L106.93 666.68L108.88 666.65L110.82 666.63L112.76 666.62L114.71 666.63L116.65 666.65L118.59 666.68L120.54 666.73L122.48 666.79L124.42 666.86L126.37 666.95L128.31 667.05L130.25 667.16L132.20 667.29L134.14 667.43L136.08 667.58L138.03 667.75L139.97 667.93L141.92 668.12L143.86 668.33L145.80 668.55L147.75 668.78L149.69 669.02L151.63 669.27L153.58 669.54L155.52 669.82L157.46 670.11L159.41 670.42L161.35 670.74L163.29 671.07L165.24 671.41L167.18 671.76L169.12 672.13L171.07 672.50L173.01 672.88L174.95 673.28L176.90 673.69L178.84 674.10L180.78 674.53L182.73 674.96L184.67 675.41L186.61 675.87L188.56 676.34L190.50 676.81L192.44 677.30L194.39 677.79L196.33 678.30L198.27 678.81L200.22 679.33L202.16 679.85L204.10 680.39L206.05 680.93L207.99 681.48L209.93 682.04L211.88 682.60L213.82 683.18L215.76 683.76L217.71 684.35L219.65 684.94L221.59 685.54L223.54 686.14L225.48 686.75L227.42 687.37L229.37 687.99L231.31 688.61L233.25 689.25L235.20 689.88L237.14 690.53L239.08 691.18L241.03 691.83L242.97 692.49L244.92 693.15L246.86 693.82L248.80 694.49L250.75 695.16L252.69 695.84L254.63 696.52L256.58 697.20L258.52 697.89L260.46 698.58L262.41 699.28L264.35 699.98L266.29 700.68L268.24 701.39L270.18 702.10L272.12 702.81L274.07 703.53L276.01 704.25L277.95 704.97L279.90 705.69L281.84 706.42L283.78 707.15L285.73 707.88L287.67 708.61L289.61 709.35L291.56 710.09L293.50 710.83L295.44 711.57L297.39 712.32L299.33 713.07L301.27 713.82L303.22 714.57L305.16 715.33L307.10 716.09L309.05 716.85L310.99 717.61L312.93 718.37L314.88 719.14L316.82 719.91L318.76 720.68L320.71 721.45L322.65 722.22L324.59 723.00L326.54 723.78L328.48 724.56L330.42 725.34L332.37 726.12L334.31 726.91L336.25 727.70L338.20 728.49L340.14 729.29L342.08 730.08L344.03 730.88L345.97 731.68L347.92 732.49L349.86 733.30L351.80 734.11L353.75 734.92L355.69 735.73L357.63 736.55L359.58 737.37L361.52 738.19L363.46 739.02L365.41 739.85L367.35 740.68L369.29 741.51L371.24 742.35L373.18 743.19L375.12 744.03L377.07 744.87L379.01 745.72L380.95 746.57L382.90 747.43L384.84 748.28L386.78 749.14L388.73 750.00L390.67 750.87L392.61 751.74L394.56 752.61L396.50 753.48" fill="none" stroke="#000" stroke-width="2.1"/>
<path d="M87.50 673.12L89.44 673.12L91.39 673.13L93.33 673.17L95.27 673.22L97.22 673.28L99.16 673.37L101.10 673.47L103.05 673.59L104.99 673.73L106.93 673.89L108.88 674.06L110.82 674.25L112.76 674.46L114.71 674.68L116.65 674.93L118.59 675.19L120.54 675.46L122.48 675.76L124.42 676.07L126.37 676.40L128.31 676.74L130.25 677.10L132.20 677.48L134.14 677.88L136.08 678.29L138.03 678.72L139.97 679.16L141.92 679.63L143.86 680.10L145.80 680.60L147.75 681.10L149.69 681.63L151.63 682.17L153.58 682.72L155.52 683.29L157.46 683.87L159.41 684.47L161.35 685.09L163.29 685.72L165.24 686.37L167.18 687.03L169.12 687.70L171.07 688.38L173.01 689.08L174.95 689.79L176.90 690.51L178.84 691.25L180.78 692.00L182.73 692.76L184.67 693.53L186.61 694.31L188.56 695.11L190.50 695.92L192.44 696.74L194.39 697.57L196.33 698.41L198.27 699.26L200.22 700.12L202.16 700.98L204.10 701.85L206.05 702.74L207.99 703.63L209.93 704.53L211.88 705.44L213.82 706.36L215.76 707.28L217.71 708.22L219.65 709.16L221.59 710.10L223.54 711.06L225.48 712.02L227.42 712.98L229.37 713.96L231.31 714.93L233.25 715.92L235.20 716.91L237.14 717.91L239.08 718.91L241.03 719.93L242.97 720.94L244.92 721.97L246.86 723.00L248.80 724.03L250.75 725.07L252.69 726.12L254.63 727.18L256.58 728.24L258.52 729.31L260.46 730.38L262.41 731.46L264.35 732.54L266.29 733.64L268.24 734.74L270.18 735.84L272.12 736.95L274.07 738.07L276.01 739.19L277.95 740.31L279.90 741.44L281.84 742.58L283.78 743.72L285.73 744.87L287.67 746.02L289.61 747.18L291.56 748.34L293.50 749.51L295.44 750.69L297.39 751.86L299.33 753.05L301.27 754.24L303.22 755.43L305.16 756.62L307.10 757.82L309.05 759.02L310.99 760.22L312.93 761.42L314.88 762.62L316.82 763.83L318.76 765.04L320.71 766.25L322.65 767.46L324.59 768.67L326.54 769.89L328.48 771.11L330.42 772.33L332.37 773.55L334.31 774.78L336.25 776.00L338.20 777.23L340.14 778.46L342.08 779.68L344.03 780.91L345.97 782.14L347.92 783.36L349.86 784.59L351.80 785.82L353.75 787.04L355.69 788.27L357.63 789.50L359.58 790.72L361.52 791.95L363.46 793.18L365.41 794.40L367.35 795.63L369.29 796.86L371.24 798.08L373.18 799.31L375.12 800.54L377.07 801.76L379.01 802.99L380.95 804.22L382.90 805.44L384.84 806.67L386.78 807.90L388.73 809.12L390.67 810.35L392.61 811.58L394.56 812.80L396.50 814.03" fill="none" stroke="#ff0000" stroke-width="2.1"/>
<path d="M273.94 638.3V828.5" stroke="#626262" stroke-width="1.6" stroke-dasharray="5.2 2.9" stroke-dashoffset="2.5" fill="none"/>
<path d="M320.15 638.3V828.5" stroke="#626262" stroke-width="1.7" stroke-dasharray="2.4 2.55" stroke-dashoffset="2.45" fill="none"/>
</g>
<rect x="88.5" y="638.3" width="307.00" height="190.20" fill="none" stroke="#858585" stroke-width="1"/>
<path d="M88.50 828.50v-3.6M88.50 638.30v3.6M134.50 828.50v-2.1M134.50 638.30v2.1M161.50 828.50v-2.1M161.50 638.30v2.1M180.50 828.50v-2.1M180.50 638.30v2.1M195.50 828.50v-2.1M195.50 638.30v2.1M207.50 828.50v-2.1M207.50 638.30v2.1M218.50 828.50v-2.1M218.50 638.30v2.1M227.50 828.50v-2.1M227.50 638.30v2.1M234.50 828.50v-2.1M234.50 638.30v2.1M242.50 828.50v-3.6M242.50 638.30v3.6M288.50 828.50v-2.1M288.50 638.30v2.1M315.50 828.50v-2.1M315.50 638.30v2.1M334.50 828.50v-2.1M334.50 638.30v2.1M349.50 828.50v-2.1M349.50 638.30v2.1M361.50 828.50v-2.1M361.50 638.30v2.1M371.50 828.50v-2.1M371.50 638.30v2.1M380.50 828.50v-2.1M380.50 638.30v2.1M388.50 828.50v-2.1M388.50 638.30v2.1M395.50 828.50v-3.6M395.50 638.30v3.6M88.50 811.50h2.1M395.50 811.50h-2.1M88.50 799.50h2.1M395.50 799.50h-2.1M88.50 790.50h2.1M395.50 790.50h-2.1M88.50 782.50h2.1M395.50 782.50h-2.1M88.50 776.50h2.1M395.50 776.50h-2.1M88.50 770.50h2.1M395.50 770.50h-2.1M88.50 766.50h2.1M395.50 766.50h-2.1M88.50 761.50h3.6M395.50 761.50h-3.6M88.50 733.50h2.1M395.50 733.50h-2.1M88.50 716.50h2.1M395.50 716.50h-2.1M88.50 704.50h2.1M395.50 704.50h-2.1M88.50 695.50h2.1M395.50 695.50h-2.1M88.50 687.50h2.1M395.50 687.50h-2.1M88.50 681.50h2.1M395.50 681.50h-2.1M88.50 675.50h2.1M395.50 675.50h-2.1M88.50 671.50h2.1M395.50 671.50h-2.1M88.50 666.50h3.6M395.50 666.50h-3.6" stroke="#777" stroke-width="1" fill="none"/>
<text x="60.3" y="672.3" font-size="15.5" fill="#000" stroke="#000" textLength="17.6" lengthAdjust="spacingAndGlyphs" >10</text>
<text x="78.5" y="665.6" font-size="10.6" fill="#000" stroke="#000" textLength="6.0" lengthAdjust="spacingAndGlyphs" >2</text>
<text x="60.3" y="767.2" font-size="15.5" fill="#000" stroke="#000" textLength="17.6" lengthAdjust="spacingAndGlyphs" >10</text>
<text x="78.5" y="760.5" font-size="10.6" fill="#000" stroke="#000" textLength="6.0" lengthAdjust="spacingAndGlyphs" >1</text>
<g transform="translate(49.2 784.0) rotate(-90)"><text x="0" y="0" font-size="13.8" stroke="#000" textLength="100" lengthAdjust="spacingAndGlyphs"><tspan font-style="italic">k</tspan><tspan font-size="10" dy="-7.6">2</tspan><tspan dy="7.6">P(k) [Mpc/h]</tspan></text></g>
<text x="110.0" y="775.5" font-size="13.5" fill="#000" stroke="#000" textLength="23.6" lengthAdjust="spacingAndGlyphs" >z=2</text>
<text x="109.3" y="794.2" font-size="13.5" fill="#000" stroke="#000" textLength="31.2" lengthAdjust="spacingAndGlyphs" >CDM</text>
<text x="110.2" y="813.5" font-size="13.5" fill="#ff0000" stroke="#ff0000" textLength="157.5" lengthAdjust="spacingAndGlyphs"><tspan font-style="italic">m</tspan><tspan font-size="9.9" dy="2.5">WDM</tspan><tspan dy="-2.5">=0.5 keV, </tspan><tspan font-style="italic">r</tspan><tspan font-size="9.9" dy="2.5">warm</tspan><tspan dy="-2.5">=0.5</tspan></text>
<text x="259.8" y="785.3" font-size="13.5" fill="#808080" stroke="#808080" textLength="56.6" lengthAdjust="spacingAndGlyphs"><tspan font-style="italic">k</tspan><tspan font-size="9.9" dy="2.5">Nyq</tspan><tspan dy="-2.5">(L10)</tspan></text>
<text x="291.2" y="803.2" font-size="13.5" fill="#808080" stroke="#808080" textLength="86" lengthAdjust="spacingAndGlyphs"><tspan font-style="italic">k</tspan><tspan font-size="9.9" dy="2.5">Nyq</tspan><tspan dy="-2.5">(L5,HL10)</tspan></text>
<text x="339.0" y="661.0" font-size="13.5" fill="#000" stroke="#000" textLength="15.2" lengthAdjust="spacingAndGlyphs" >L5</text>
<text x="339.0" y="680.4" font-size="13.5" fill="#000" stroke="#000" textLength="22.8" lengthAdjust="spacingAndGlyphs" >L10</text>
<text x="339.0" y="698.9" font-size="13.5" fill="#000" stroke="#000" textLength="33.0" lengthAdjust="spacingAndGlyphs" >HL10</text>
<circle cx="366.58" cy="657.24" r="4.4" fill="#000"/>
<path d="M373.81 673.40L377.21 679.70H370.41Z" fill="none" stroke="#000" stroke-width="0.9"/>
<circle cx="384.71" cy="695.02" r="3.7" fill="none" stroke="#000" stroke-width="0.9"/>
<text x="75.7" y="846.2" font-size="15.5" fill="#000" stroke="#000" textLength="17.6" lengthAdjust="spacingAndGlyphs" >10</text>
<text x="93.9" y="839.5" font-size="10.6" fill="#000" stroke="#000" textLength="6.0" lengthAdjust="spacingAndGlyphs" >1</text>
<text x="229.2" y="846.2" font-size="15.5" fill="#000" stroke="#000" textLength="17.6" lengthAdjust="spacingAndGlyphs" >10</text>
<text x="247.4" y="839.5" font-size="10.6" fill="#000" stroke="#000" textLength="6.0" lengthAdjust="spacingAndGlyphs" >2</text>
<text x="382.7" y="846.2" font-size="15.5" fill="#000" stroke="#000" textLength="17.6" lengthAdjust="spacingAndGlyphs" >10</text>
<text x="400.9" y="839.5" font-size="10.6" fill="#000" stroke="#000" textLength="6.0" lengthAdjust="spacingAndGlyphs" >3</text>
<text x="209.3" y="868.9" font-size="14.2" fill="#000" stroke="#000" textLength="64.0" lengthAdjust="spacingAndGlyphs" >k [h/Mpc]</text>
</svg></body></html>
